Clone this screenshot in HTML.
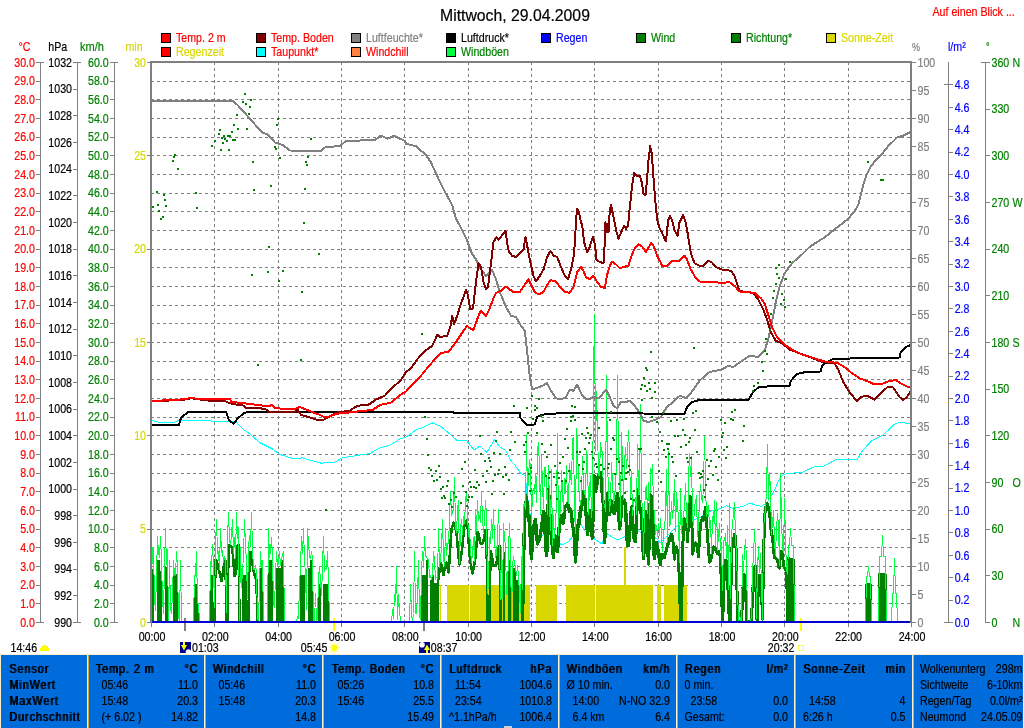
<!DOCTYPE html>
<html><head><meta charset="utf-8"><title>Wetter</title>
<style>html,body{margin:0;padding:0;background:#fff;}svg{display:block;will-change:transform;}</style></head>
<body>
<svg width="1024" height="728" viewBox="0 0 1024 728" font-family="'Liberation Sans', sans-serif" shape-rendering="crispEdges" text-rendering="optimizeLegibility">
<rect x="0" y="0" width="1024" height="728" fill="#fff"/>
<text transform="translate(440.00,20.50) scale(0.987,1)" font-size="16" fill="#000" stroke="#000" stroke-width="0.2">Mittwoch, 29.04.2009</text>
<text transform="translate(932.50,15.50) scale(0.82,1)" font-size="13" fill="#f00" stroke="#f00" stroke-width="0.2">Auf einen Blick ...</text>
<rect x="161.5" y="33.5" width="9" height="9" fill="#ff0000" stroke="#000" stroke-width="1"/>
<text transform="translate(176.00,41.70) scale(0.82,1)" font-size="13" fill="#ff0000" stroke="#ff0000" stroke-width="0.2">Temp. 2 m</text>
<rect x="256.5" y="33.5" width="9" height="9" fill="#800000" stroke="#000" stroke-width="1"/>
<text transform="translate(271.00,41.70) scale(0.82,1)" font-size="13" fill="#ff0000" stroke="#ff0000" stroke-width="0.2">Temp. Boden</text>
<rect x="351.5" y="33.5" width="9" height="9" fill="#808080" stroke="#000" stroke-width="1"/>
<text transform="translate(366.00,41.70) scale(0.82,1)" font-size="13" fill="#808080" stroke="#808080" stroke-width="0.2">Luftfeuchte*</text>
<rect x="446.5" y="33.5" width="9" height="9" fill="#000000" stroke="#000" stroke-width="1"/>
<text transform="translate(461.00,41.70) scale(0.82,1)" font-size="13" fill="#000" stroke="#000" stroke-width="0.2">Luftdruck*</text>
<rect x="541.5" y="33.5" width="9" height="9" fill="#0000ff" stroke="#000" stroke-width="1"/>
<text transform="translate(556.00,41.70) scale(0.82,1)" font-size="13" fill="#0000ff" stroke="#0000ff" stroke-width="0.2">Regen</text>
<rect x="636.5" y="33.5" width="9" height="9" fill="#008000" stroke="#000" stroke-width="1"/>
<text transform="translate(651.00,41.70) scale(0.82,1)" font-size="13" fill="#008000" stroke="#008000" stroke-width="0.2">Wind</text>
<rect x="731.5" y="33.5" width="9" height="9" fill="#008000" stroke="#000" stroke-width="1"/>
<text transform="translate(746.00,41.70) scale(0.82,1)" font-size="13" fill="#008000" stroke="#008000" stroke-width="0.2">Richtung*</text>
<rect x="826.5" y="33.5" width="9" height="9" fill="#d8d800" stroke="#000" stroke-width="1"/>
<text transform="translate(841.00,41.70) scale(0.82,1)" font-size="13" fill="#d8d800" stroke="#d8d800" stroke-width="0.2">Sonne-Zeit</text>
<rect x="161.5" y="47.5" width="9" height="9" fill="#ff0000" stroke="#000" stroke-width="1"/>
<text transform="translate(176.00,55.70) scale(0.82,1)" font-size="13" fill="#d8d800" stroke="#d8d800" stroke-width="0.2">Regenzeit</text>
<rect x="256.5" y="47.5" width="9" height="9" fill="#00ffff" stroke="#000" stroke-width="1"/>
<text transform="translate(271.00,55.70) scale(0.82,1)" font-size="13" fill="#ff0000" stroke="#ff0000" stroke-width="0.2">Taupunkt*</text>
<rect x="351.5" y="47.5" width="9" height="9" fill="#ff8040" stroke="#000" stroke-width="1"/>
<text transform="translate(366.00,55.70) scale(0.82,1)" font-size="13" fill="#ff0000" stroke="#ff0000" stroke-width="0.2">Windchill</text>
<rect x="446.5" y="47.5" width="9" height="9" fill="#00ff40" stroke="#000" stroke-width="1"/>
<text transform="translate(461.00,55.70) scale(0.82,1)" font-size="13" fill="#008000" stroke="#008000" stroke-width="0.2">Windböen</text>
<line x1="151.0" y1="81.5" x2="910.0" y2="81.5" stroke="#808080" stroke-width="1" stroke-dasharray="3,3"/>
<line x1="151.0" y1="99.5" x2="910.0" y2="99.5" stroke="#808080" stroke-width="1" stroke-dasharray="3,3"/>
<line x1="151.0" y1="118.5" x2="910.0" y2="118.5" stroke="#808080" stroke-width="1" stroke-dasharray="3,3"/>
<line x1="151.0" y1="137.5" x2="910.0" y2="137.5" stroke="#808080" stroke-width="1" stroke-dasharray="3,3"/>
<line x1="151.0" y1="155.5" x2="910.0" y2="155.5" stroke="#808080" stroke-width="1" stroke-dasharray="3,3"/>
<line x1="151.0" y1="174.5" x2="910.0" y2="174.5" stroke="#808080" stroke-width="1" stroke-dasharray="3,3"/>
<line x1="151.0" y1="193.5" x2="910.0" y2="193.5" stroke="#808080" stroke-width="1" stroke-dasharray="3,3"/>
<line x1="151.0" y1="211.5" x2="910.0" y2="211.5" stroke="#808080" stroke-width="1" stroke-dasharray="3,3"/>
<line x1="151.0" y1="230.5" x2="910.0" y2="230.5" stroke="#808080" stroke-width="1" stroke-dasharray="3,3"/>
<line x1="151.0" y1="249.5" x2="910.0" y2="249.5" stroke="#808080" stroke-width="1" stroke-dasharray="3,3"/>
<line x1="151.0" y1="267.5" x2="910.0" y2="267.5" stroke="#808080" stroke-width="1" stroke-dasharray="3,3"/>
<line x1="151.0" y1="286.5" x2="910.0" y2="286.5" stroke="#808080" stroke-width="1" stroke-dasharray="3,3"/>
<line x1="151.0" y1="305.5" x2="910.0" y2="305.5" stroke="#808080" stroke-width="1" stroke-dasharray="3,3"/>
<line x1="151.0" y1="323.5" x2="910.0" y2="323.5" stroke="#808080" stroke-width="1" stroke-dasharray="3,3"/>
<line x1="151.0" y1="342.5" x2="910.0" y2="342.5" stroke="#808080" stroke-width="1" stroke-dasharray="3,3"/>
<line x1="151.0" y1="361.5" x2="910.0" y2="361.5" stroke="#808080" stroke-width="1" stroke-dasharray="3,3"/>
<line x1="151.0" y1="379.5" x2="910.0" y2="379.5" stroke="#808080" stroke-width="1" stroke-dasharray="3,3"/>
<line x1="151.0" y1="398.5" x2="910.0" y2="398.5" stroke="#808080" stroke-width="1" stroke-dasharray="3,3"/>
<line x1="151.0" y1="417.5" x2="910.0" y2="417.5" stroke="#808080" stroke-width="1" stroke-dasharray="3,3"/>
<line x1="151.0" y1="435.5" x2="910.0" y2="435.5" stroke="#808080" stroke-width="1" stroke-dasharray="3,3"/>
<line x1="151.0" y1="454.5" x2="910.0" y2="454.5" stroke="#808080" stroke-width="1" stroke-dasharray="3,3"/>
<line x1="151.0" y1="473.5" x2="910.0" y2="473.5" stroke="#808080" stroke-width="1" stroke-dasharray="3,3"/>
<line x1="151.0" y1="491.5" x2="910.0" y2="491.5" stroke="#808080" stroke-width="1" stroke-dasharray="3,3"/>
<line x1="151.0" y1="510.5" x2="910.0" y2="510.5" stroke="#808080" stroke-width="1" stroke-dasharray="3,3"/>
<line x1="151.0" y1="529.5" x2="910.0" y2="529.5" stroke="#808080" stroke-width="1" stroke-dasharray="3,3"/>
<line x1="151.0" y1="547.5" x2="910.0" y2="547.5" stroke="#808080" stroke-width="1" stroke-dasharray="3,3"/>
<line x1="151.0" y1="566.5" x2="910.0" y2="566.5" stroke="#808080" stroke-width="1" stroke-dasharray="3,3"/>
<line x1="151.0" y1="585.5" x2="910.0" y2="585.5" stroke="#808080" stroke-width="1" stroke-dasharray="3,3"/>
<line x1="151.0" y1="603.5" x2="910.0" y2="603.5" stroke="#808080" stroke-width="1" stroke-dasharray="3,3"/>
<line x1="214.5" y1="62.0" x2="214.5" y2="622.0" stroke="#808080" stroke-width="1" stroke-dasharray="3,3"/>
<line x1="278.5" y1="62.0" x2="278.5" y2="622.0" stroke="#808080" stroke-width="1" stroke-dasharray="3,3"/>
<line x1="341.5" y1="62.0" x2="341.5" y2="622.0" stroke="#808080" stroke-width="1" stroke-dasharray="3,3"/>
<line x1="404.5" y1="62.0" x2="404.5" y2="622.0" stroke="#808080" stroke-width="1" stroke-dasharray="3,3"/>
<line x1="468.5" y1="62.0" x2="468.5" y2="622.0" stroke="#808080" stroke-width="1" stroke-dasharray="3,3"/>
<line x1="531.5" y1="62.0" x2="531.5" y2="622.0" stroke="#808080" stroke-width="1" stroke-dasharray="3,3"/>
<line x1="594.5" y1="62.0" x2="594.5" y2="622.0" stroke="#808080" stroke-width="1" stroke-dasharray="3,3"/>
<line x1="658.5" y1="62.0" x2="658.5" y2="622.0" stroke="#808080" stroke-width="1" stroke-dasharray="3,3"/>
<line x1="721.5" y1="62.0" x2="721.5" y2="622.0" stroke="#808080" stroke-width="1" stroke-dasharray="3,3"/>
<line x1="784.5" y1="62.0" x2="784.5" y2="622.0" stroke="#808080" stroke-width="1" stroke-dasharray="3,3"/>
<line x1="848.5" y1="62.0" x2="848.5" y2="622.0" stroke="#808080" stroke-width="1" stroke-dasharray="3,3"/>
<rect x="439.5" y="585" width="1.6999999999999886" height="37" fill="#d8d800"/>
<rect x="447" y="585" width="83.39999999999998" height="37" fill="#d8d800"/>
<rect x="536" y="585" width="21" height="37" fill="#d8d800"/>
<rect x="565.7" y="585" width="87.09999999999991" height="37" fill="#d8d800"/>
<rect x="657.2" y="585" width="3.7999999999999545" height="37" fill="#d8d800"/>
<rect x="663.5" y="585" width="23.5" height="37" fill="#d8d800"/>
<line x1="469.5" y1="585" x2="469.5" y2="622" stroke="#fff" stroke-width="1" />
<line x1="595.5" y1="585" x2="595.5" y2="622" stroke="#fff" stroke-width="1" />
<rect x="624" y="547" width="2" height="38" fill="#d8d800"/>
<rect x="184" y="618" width="2" height="13" fill="#808080"/>
<rect x="333" y="618" width="2" height="13" fill="#ffff00"/>
<rect x="423" y="618" width="2" height="13" fill="#808080"/>
<rect x="800" y="618" width="2" height="13" fill="#ffff00"/>
<polyline points="150.0,420.0 157.5,422.0 175.0,422.0 180.0,420.0 207.5,420.0 215.0,422.0 230.0,421.2 236.2,422.5 242.5,428.8 250.0,434.0 260.0,442.8 272.5,449.0 280.0,454.5 293.8,459.0 302.5,457.8 310.0,460.2 321.2,463.2 335.0,462.0 342.5,457.8 355.0,455.8 370.0,453.5 380.0,447.8 390.0,445.2 400.0,439.0 406.0,437.0 410.5,434.0 416.6,429.5 425.6,426.4 432.4,423.0 440.8,426.4 449.8,434.0 457.4,440.8 466.5,440.5 474.0,449.9 480.0,446.1 486.9,452.4 494.4,439.6 499.7,446.8 505.7,450.6 510.3,459.7 514.8,465.0 520.9,473.7 525.4,475.6 527.0,494.0 529.0,505.0 532.0,530.0 536.0,535.0 540.0,538.0 545.0,533.0 550.0,535.0 556.0,541.0 562.0,545.0 568.0,542.0 574.0,535.0 580.0,522.0 584.0,530.0 590.0,536.0 596.0,540.0 602.0,544.0 606.0,533.0 612.0,537.0 618.0,540.0 624.0,537.0 630.0,534.0 636.0,528.0 641.0,533.0 647.0,540.0 653.0,536.0 658.0,540.0 660.0,543.2 668.3,534.9 676.6,526.5 683.6,518.2 690.5,521.0 698.8,518.2 709.9,511.3 721.0,508.5 726.5,505.8 733.4,508.5 743.1,506.3 750.0,503.0 755.6,505.2 761.2,506.3 766.7,503.0 773.6,491.9 780.6,476.7 786.1,473.3 790.0,473.3 801.9,472.5 815.7,466.1 824.0,466.1 835.1,460.0 847.6,459.2 857.3,459.2 862.8,450.3 871.1,441.2 883.6,434.5 894.7,424.0 900.0,422.5 905.0,423.0 910.8,424.0" fill="none" stroke="#00ffff" stroke-width="1" stroke-linejoin="round" />
<polygon points="151.0,622.0 151.0,567.9 152.0,567.9 152.0,568.8 153.0,568.8 153.0,568.8 154.0,568.8 154.0,622.0" fill="#008000"/>
<polygon points="157.0,622.0 157.0,560.4 158.0,560.4 158.0,560.4 159.0,560.4 159.0,560.4 160.0,560.4 160.0,570.7 161.0,570.7 161.0,570.7 162.0,570.7 162.0,622.0" fill="#008000"/>
<polygon points="165.0,622.0 165.0,566.9 166.0,566.9 166.0,566.9 167.0,566.9 167.0,566.9 168.0,566.9 168.0,622.0" fill="#008000"/>
<polygon points="173.0,622.0 173.0,575.3 174.0,575.3 174.0,575.3 175.0,575.3 175.0,575.3 176.0,575.3 176.0,574.4 177.0,574.4 177.0,574.4 178.0,574.4 178.0,622.0" fill="#008000"/>
<polygon points="194.0,622.0 194.0,583.7 195.0,583.7 195.0,583.7 196.0,583.7 196.0,583.7 197.0,583.7 197.0,603.3 198.0,603.3 198.0,603.3 199.0,603.3 199.0,622.0" fill="#008000"/>
<polygon points="210.0,622.0 210.0,575.3 211.0,575.3 211.0,575.3 212.0,575.3 212.0,575.3 213.0,575.3 213.0,622.0" fill="#008000"/>
<polygon points="242.0,622.0 242.0,575.3 243.0,575.3 243.0,575.3 244.0,575.3 244.0,575.3 245.0,575.3 245.0,575.3 246.0,575.3 246.0,575.3 247.0,575.3 247.0,622.0" fill="#008000"/>
<polygon points="260.0,622.0 260.0,567.9 261.0,567.9 261.0,567.9 262.0,567.9 262.0,567.9 263.0,567.9 263.0,622.0" fill="#008000"/>
<polygon points="268.0,622.0 268.0,560.4 269.0,560.4 269.0,560.4 270.0,560.4 270.0,560.4 271.0,560.4 271.0,560.4 272.0,560.4 272.0,560.4 273.0,560.4 273.0,622.0" fill="#008000"/>
<polygon points="276.0,622.0 276.0,567.9 277.0,567.9 277.0,567.9 278.0,567.9 278.0,567.9 279.0,567.9 279.0,567.9 280.0,567.9 280.0,567.9 281.0,567.9 281.0,560.4 282.0,560.4 282.0,560.4 283.0,560.4 283.0,560.4 284.0,560.4 284.0,622.0" fill="#008000"/>
<polygon points="300.0,622.0 300.0,575.3 301.0,575.3 301.0,575.3 302.0,575.3 302.0,575.3 303.0,575.3 303.0,575.3 304.0,575.3 304.0,575.3 305.0,575.3 305.0,622.0" fill="#008000"/>
<polygon points="308.0,622.0 308.0,567.9 309.0,567.9 309.0,567.9 310.0,567.9 310.0,560.4 311.0,560.4 311.0,560.4 312.0,560.4 312.0,560.4 313.0,560.4 313.0,622.0" fill="#008000"/>
<polygon points="318.0,622.0 318.0,583.7 319.0,583.7 319.0,583.7 320.0,583.7 320.0,583.7 321.0,583.7 321.0,622.0" fill="#008000"/>
<polygon points="323.0,622.0 323.0,583.7 324.0,583.7 324.0,583.7 325.0,583.7 325.0,583.7 326.0,583.7 326.0,583.7 327.0,583.7 327.0,583.7 328.0,583.7 328.0,583.7 329.0,583.7 329.0,622.0" fill="#008000"/>
<polygon points="421.0,622.0 421.0,575.3 422.0,575.3 422.0,575.3 423.0,575.3 423.0,575.3 424.0,575.3 424.0,575.3 425.0,575.3 425.0,575.3 426.0,575.3 426.0,560.4 427.0,560.4 427.0,560.4 428.0,560.4 428.0,622.0" fill="#008000"/>
<polygon points="430.0,622.0 430.0,580.0 431.0,580.0 431.0,580.0 432.0,580.0 432.0,575.3 433.0,575.3 433.0,575.3 434.0,575.3 434.0,582.8 435.0,582.8 435.0,582.8 436.0,582.8 436.0,582.8 437.0,582.8 437.0,580.0 438.0,580.0 438.0,580.0 439.0,580.0 439.0,622.0" fill="#008000"/>
<polygon points="503.0,622.0 503.0,552.0 504.0,552.0 504.0,552.0 505.0,552.0 505.0,622.0" fill="#008000"/>
<polygon points="508.0,622.0 508.0,560.4 509.0,560.4 509.0,560.4 510.0,560.4 510.0,560.4 511.0,560.4 511.0,622.0" fill="#008000"/>
<polygon points="513.0,622.0 513.0,567.9 514.0,567.9 514.0,567.9 515.0,567.9 515.0,567.9 516.0,567.9 516.0,580.0 517.0,580.0 517.0,580.0 518.0,580.0 518.0,580.0 519.0,580.0 519.0,622.0" fill="#008000"/>
<polygon points="786.0,622.0 786.0,571.6 787.0,571.6 787.0,606.5 788.0,606.5 788.0,558.5 789.0,558.5 789.0,558.5 790.0,558.5 790.0,558.5 791.0,558.5 791.0,622.0" fill="#008000"/>
<polygon points="792.0,622.0 792.0,558.5 793.0,558.5 793.0,558.5 794.0,558.5 794.0,622.0" fill="#008000"/>
<polygon points="866.0,622.0 866.0,583.7 867.0,583.7 867.0,583.7 868.0,583.7 868.0,583.7 869.0,583.7 869.0,583.7 870.0,583.7 870.0,583.7 871.0,583.7 871.0,622.0" fill="#008000"/>
<polygon points="879.0,622.0 879.0,573.5 880.0,573.5 880.0,573.5 881.0,573.5 881.0,573.5 882.0,573.5 882.0,622.0" fill="#008000"/>
<polygon points="883.0,622.0 883.0,573.5 884.0,573.5 884.0,573.5 885.0,573.5 885.0,573.5 886.0,573.5 886.0,622.0" fill="#008000"/>
<polyline points="214.5,622.0 215.5,560.4 216.5,560.5 217.5,564.4 218.5,568.3 219.5,572.3 220.5,576.6 221.5,580.8 222.5,576.0 223.5,568.2 224.5,561.3 225.5,561.3 226.5,622.0" fill="none" stroke="#008000" stroke-width="2.6" stroke-linejoin="round" stroke-linejoin="miter"/>
<polyline points="227.5,622.0 228.5,545.5 229.5,545.5 230.5,546.1 231.5,546.8 232.5,549.9 233.5,563.0 234.5,576.1 235.5,574.0 236.5,559.9 237.5,545.7 238.5,544.5 239.5,622.0" fill="none" stroke="#008000" stroke-width="2.6" stroke-linejoin="round" stroke-linejoin="miter"/>
<polyline points="248.5,622.0 249.5,552.0 250.5,552.0 251.5,557.1 252.5,564.2 253.5,571.0 254.5,574.5 255.5,578.0 256.5,580.0 257.5,622.0" fill="none" stroke="#008000" stroke-width="2.6" stroke-linejoin="round" stroke-linejoin="miter"/>
<polyline points="438.5,580.0 439.5,569.9 440.5,562.5 441.5,564.5 442.5,570.1 443.5,574.9 444.5,569.2 445.5,563.5 446.5,562.6 447.5,567.6 448.5,572.5 449.5,560.1 450.5,543.5 451.5,529.1 452.5,525.9 453.5,522.7 454.5,523.6 455.5,528.2 456.5,532.8 457.5,544.3 458.5,556.7 459.5,564.6 460.5,558.9 461.5,553.3 462.5,544.8 463.5,534.5 464.5,524.3 465.5,522.3 466.5,520.5 467.5,524.3 468.5,539.1 469.5,554.0 470.5,562.5 471.5,568.1 472.5,573.2 473.5,568.6 474.5,564.0 475.5,556.3 476.5,544.3 477.5,532.3 478.5,533.7 479.5,539.0 480.5,543.6 481.5,543.6 482.5,543.6 483.5,540.9 484.5,535.6 485.5,530.3 486.5,529.6 487.5,622.0" fill="none" stroke="#008000" stroke-width="2.6" stroke-linejoin="round" stroke-linejoin="miter"/>
<polyline points="489.5,622.0 490.5,551.1 491.5,554.4 492.5,560.0 493.5,565.7 494.5,566.0 495.5,566.0 496.5,563.6 497.5,555.8 498.5,548.1 499.5,545.5 500.5,622.0" fill="none" stroke="#008000" stroke-width="2.6" stroke-linejoin="round" stroke-linejoin="miter"/>
<polyline points="522.5,622.0 523.5,563.9 524.5,520.3 525.5,512.5 526.5,496.0 527.5,511.4 528.5,520.9 529.5,516.6 530.5,545.2 531.5,558.4 532.5,536.8 533.5,530.1 534.5,521.3 535.5,519.7 536.5,533.8 537.5,543.9 538.5,541.2 539.5,539.6 540.5,533.2 541.5,527.5 542.5,519.5 543.5,511.3 544.5,514.4 545.5,542.1 546.5,555.2 547.5,543.4 548.5,489.6 549.5,505.9 550.5,533.0 551.5,535.6 552.5,548.4 553.5,557.3 554.5,541.5 555.5,536.1 556.5,541.3 557.5,551.3 558.5,538.1 559.5,522.0 560.5,515.7 561.5,522.6 562.5,518.8 563.5,523.1 564.5,509.1 565.5,506.0 566.5,506.6 567.5,503.8 568.5,506.2 569.5,511.5 570.5,509.1 571.5,514.5 572.5,526.1 573.5,528.8 574.5,539.5 575.5,561.9 576.5,544.3 577.5,532.0 578.5,520.5 579.5,523.5 580.5,507.0 581.5,509.3 582.5,499.5 583.5,491.4 584.5,494.0 585.5,508.2 586.5,519.1 587.5,534.3 588.5,528.1 589.5,510.4 590.5,514.3 591.5,532.6 592.5,538.2 593.5,486.7 594.5,475.9 595.5,491.2 596.5,486.9 597.5,480.6 598.5,475.1 599.5,475.7 600.5,472.7 601.5,481.1 602.5,497.6 603.5,505.3 604.5,542.4 605.5,527.6 606.5,510.3 607.5,493.7 608.5,512.1 609.5,514.4 610.5,507.2 611.5,500.9 612.5,510.5 613.5,513.0 614.5,513.2 615.5,509.8 616.5,498.1 617.5,493.5 618.5,504.5 619.5,528.9 620.5,523.3 621.5,507.6 622.5,497.0 623.5,502.2 624.5,500.1 625.5,506.2 626.5,528.0 627.5,545.5 628.5,545.5 629.5,532.9 630.5,522.3 631.5,507.3 632.5,518.2 633.5,536.2 634.5,540.5 635.5,541.2 636.5,517.1 637.5,489.6 638.5,496.8 639.5,506.5 640.5,512.3 641.5,508.7 642.5,538.0 643.5,558.2 644.5,544.7 645.5,522.8 646.5,511.5 647.5,537.9 648.5,564.1 649.5,521.7 650.5,495.0 651.5,496.6 652.5,510.2 653.5,550.8 654.5,558.5 655.5,547.8 656.5,542.6 657.5,550.6 658.5,550.1 659.5,560.9 660.5,564.7" fill="none" stroke="#008000" stroke-width="3.4" stroke-linejoin="round" stroke-linejoin="miter"/>
<polyline points="659.5,560.9 660.5,564.7 661.5,556.1 662.5,554.4 663.5,555.9 664.5,557.6 665.5,552.4 666.5,550.4 667.5,544.4 668.5,544.3 669.5,539.5 670.5,535.8 671.5,534.3 672.5,535.9 673.5,548.0 674.5,559.2 675.5,549.2 676.5,547.0 677.5,551.2 678.5,556.9 679.5,585.9 680.5,621.7 681.5,621.7 682.5,555.1 683.5,528.3 684.5,518.8 685.5,519.1 686.5,520.6 687.5,541.5 688.5,522.5 689.5,496.2 690.5,497.3 691.5,500.3 692.5,554.1 693.5,549.8 694.5,543.9 695.5,543.0 696.5,544.5 697.5,548.1 698.5,556.5 699.5,538.6 700.5,523.6 701.5,520.6 702.5,517.6 703.5,520.4 704.5,515.2 705.5,507.5 706.5,519.6 707.5,537.1 708.5,549.0 709.5,562.1 710.5,561.1 711.5,556.0 712.5,552.2 713.5,547.0 714.5,547.2 715.5,549.0 716.5,551.5 717.5,553.6 718.5,551.4 719.5,554.3 720.5,556.1 721.5,591.1 722.5,621.7 723.5,602.9 724.5,561.8 725.5,560.4 726.5,561.5 727.5,571.6 728.5,606.8 729.5,621.7 730.5,621.7 731.5,551.6 732.5,543.6 733.5,540.9 734.5,534.4 735.5,536.8 736.5,557.8 737.5,620.1 738.5,621.7 739.5,621.7 740.5,621.7 741.5,621.7 742.5,599.8 743.5,574.1 744.5,575.2 745.5,582.8 746.5,621.7 747.5,621.7 748.5,621.7 749.5,621.7 750.5,621.7 751.5,619.2 752.5,598.2 753.5,576.2 754.5,567.1 755.5,566.3 756.5,618.1 757.5,621.7 758.5,575.4 759.5,575.8 760.5,575.6 761.5,590.8 762.5,619.2 763.5,560.7 764.5,517.6 765.5,508.7 766.5,503.6 767.5,504.6 768.5,508.3 769.5,513.7 770.5,522.6 771.5,534.4 772.5,536.4 773.5,549.4 774.5,557.6 775.5,557.9 776.5,558.7 777.5,560.2 778.5,566.4 779.5,568.0 780.5,551.5 781.5,552.9 782.5,552.6 783.5,566.2 784.5,567.9 785.5,570.1 786.5,571.6 787.5,606.5 788.5,558.5 789.5,558.5" fill="none" stroke="#008000" stroke-width="3" stroke-linejoin="round" stroke-linejoin="miter"/>
<polyline points="788.5,558.5 789.5,558.5 790.5,558.5 791.5,622.0 792.5,558.5 793.5,558.5 794.5,622.0 795.5,622.0 796.5,622.0 797.5,622.0 798.5,622.0 799.5,622.0 800.5,622.0 801.5,622.0 802.5,622.0 803.5,622.0 804.5,622.0 805.5,622.0 806.5,622.0 807.5,622.0 808.5,622.0 809.5,622.0 810.5,622.0 811.5,622.0 812.5,622.0 813.5,622.0 814.5,622.0 815.5,622.0 816.5,622.0 817.5,622.0 818.5,622.0 819.5,622.0 820.5,622.0 821.5,622.0 822.5,622.0 823.5,622.0 824.5,622.0 825.5,622.0 826.5,622.0 827.5,622.0 828.5,622.0 829.5,622.0 830.5,622.0 831.5,622.0 832.5,622.0 833.5,622.0 834.5,622.0 835.5,622.0 836.5,622.0 837.5,622.0 838.5,622.0 839.5,622.0 840.5,622.0 841.5,622.0 842.5,622.0 843.5,622.0 844.5,622.0 845.5,622.0 846.5,622.0 847.5,622.0 848.5,622.0 849.5,622.0 850.5,622.0 851.5,622.0 852.5,622.0 853.5,622.0 854.5,622.0 855.5,622.0 856.5,622.0 857.5,622.0 858.5,622.0 859.5,622.0 860.5,622.0 861.5,622.0 862.5,622.0 863.5,622.0 864.5,622.0 865.5,622.0 866.5,583.7 867.5,583.7 868.5,583.7 869.5,583.7 870.5,583.7 871.5,622.0 872.5,622.0 873.5,622.0 874.5,622.0 875.5,622.0 876.5,622.0 877.5,622.0 878.5,622.0 879.5,573.5 880.5,573.5 881.5,573.5 882.5,622.0 883.5,573.5 884.5,573.5 885.5,573.5 886.5,622.0 887.5,622.0 888.5,622.0 889.5,622.0 890.5,622.0 891.5,622.0 892.5,622.0 893.5,622.0 894.5,622.0 895.5,622.0 896.5,622.0 897.5,622.0 898.5,622.0 899.5,622.0 900.5,622.0 901.5,622.0 902.5,622.0 903.5,622.0 904.5,622.0 905.5,622.0 906.5,622.0 907.5,622.0 908.5,622.0 909.5,622.0 910.5,622.0 911.5,622.0" fill="none" stroke="#008000" stroke-width="2" stroke-linejoin="round" stroke-linejoin="miter"/>
<polyline points="151.5,528.7 152.5,563.5 153.5,547.3 154.5,600.4 155.5,610.2 156.5,575.3 157.5,536.1 158.5,552.6 159.5,557.9 160.5,536.1 161.5,560.9 162.5,599.8 163.5,613.5 164.5,566.0 165.5,528.7 166.5,565.0 167.5,549.9 168.5,620.7 169.5,560.4 170.5,608.5 171.5,613.4 172.5,594.0 173.5,560.4 174.5,574.0 175.5,575.2 176.5,551.1 177.5,567.6 178.5,616.1 179.5,621.1 180.5,560.4 181.5,622.0 182.5,622.0 183.5,622.0 184.5,622.0 185.5,622.0 186.5,622.0 187.5,622.0 188.5,622.0 189.5,622.0 190.5,622.0 191.5,622.0 192.5,622.0 193.5,622.0 194.5,575.4 195.5,575.8 196.5,551.1 197.5,603.3 198.5,603.3 199.5,622.0 200.5,622.0 201.5,622.0 202.5,622.0 203.5,622.0 204.5,622.0 205.5,622.0 206.5,622.0 207.5,622.0 208.5,622.0 209.5,622.0 210.5,561.1 211.5,566.5 212.5,544.5 213.5,566.0 214.5,608.0 215.5,545.4 216.5,519.3 217.5,553.1 218.5,552.0 219.5,569.2 220.5,528.7 221.5,552.2 222.5,550.1 223.5,562.9 224.5,556.7 225.5,559.5 226.5,612.4 227.5,538.0 228.5,512.8 229.5,540.3 230.5,544.8 231.5,535.2 232.5,519.3 233.5,553.4 234.5,538.0 235.5,557.2 236.5,512.8 237.5,538.7 238.5,527.8 239.5,622.0 240.5,547.3 241.5,588.0 242.5,570.5 243.5,556.7 244.5,519.3 245.5,545.1 246.5,563.1 247.5,598.5 248.5,547.3 249.5,535.2 250.5,546.2 251.5,512.8 252.5,547.3 253.5,569.8 254.5,569.5 255.5,566.0 256.5,572.6 257.5,619.8 258.5,620.1 259.5,584.7 260.5,551.1 261.5,567.3 262.5,560.5 263.5,622.0 264.5,622.0 265.5,622.0 266.5,622.0 267.5,622.0 268.5,528.7 269.5,557.3 270.5,550.6 271.5,538.0 272.5,554.9 273.5,604.9 274.5,607.0 275.5,575.3 276.5,551.1 277.5,566.8 278.5,564.0 279.5,551.1 280.5,565.9 281.5,559.0 282.5,555.4 283.5,551.1 284.5,622.0 285.5,622.0 286.5,622.0 287.5,622.0 288.5,622.0 289.5,622.0 290.5,622.0 291.5,622.0 292.5,622.0 293.5,622.0 294.5,622.0 295.5,622.0 296.5,622.0 297.5,616.3 298.5,618.1 299.5,584.7 300.5,566.8 301.5,536.1 302.5,553.4 303.5,528.7 304.5,558.9 305.5,575.8 306.5,609.9 307.5,528.7 308.5,542.7 309.5,557.2 310.5,558.7 311.5,551.1 312.5,558.9 313.5,622.0 314.5,622.0 315.5,594.0 316.5,620.7 317.5,618.6 318.5,578.2 319.5,566.9 320.5,580.3 321.5,595.6 322.5,566.9 323.5,536.1 324.5,571.1 325.5,568.7 326.5,568.2 327.5,551.1 328.5,580.4 329.5,622.0 330.5,622.0 331.5,622.0 332.5,622.0 333.5,622.0 334.5,622.0 335.5,622.0 336.5,622.0 337.5,622.0 338.5,622.0 339.5,622.0 340.5,622.0 341.5,622.0 342.5,622.0 343.5,622.0 344.5,622.0 345.5,622.0 346.5,622.0 347.5,622.0 348.5,622.0 349.5,622.0 350.5,622.0 351.5,622.0 352.5,622.0 353.5,622.0 354.5,622.0 355.5,622.0 356.5,622.0 357.5,622.0 358.5,622.0 359.5,622.0 360.5,622.0 361.5,622.0 362.5,622.0 363.5,622.0 364.5,622.0 365.5,622.0 366.5,622.0 367.5,622.0 368.5,622.0 369.5,622.0 370.5,622.0 371.5,622.0 372.5,622.0 373.5,622.0 374.5,622.0 375.5,622.0 376.5,622.0 377.5,622.0 378.5,622.0 379.5,622.0 380.5,622.0 381.5,622.0 382.5,622.0 383.5,622.0 384.5,622.0 385.5,622.0 386.5,622.0 387.5,622.0 388.5,622.0 389.5,622.0 390.5,622.0 391.5,622.0 392.5,609.7 393.5,618.6 394.5,594.9 395.5,601.6 396.5,566.9 397.5,619.3 398.5,594.9 399.5,610.1 400.5,622.0 401.5,622.0 402.5,622.0 403.5,622.0 404.5,622.0 405.5,622.0 406.5,622.0 407.5,622.0 408.5,622.0 409.5,622.0 410.5,584.7 411.5,614.1 412.5,621.3 413.5,613.5 414.5,551.1 415.5,612.9 416.5,613.6 417.5,594.0 418.5,560.4 419.5,616.6 420.5,619.9 421.5,572.3 422.5,551.1 423.5,567.9 424.5,536.1 425.5,557.0 426.5,556.7 427.5,559.1 428.5,559.8 429.5,577.6 430.5,575.3 431.5,579.5 432.5,575.1 433.5,551.1 434.5,560.4 435.5,579.5 436.5,577.3 437.5,578.3 438.5,528.7 439.5,567.7 440.5,559.4 441.5,547.3 442.5,519.3 443.5,557.4 444.5,565.6 445.5,528.7 446.5,555.8 447.5,543.9 448.5,543.8 449.5,519.3 450.5,491.3 451.5,515.4 452.5,512.8 453.5,508.1 454.5,477.3 455.5,526.8 456.5,532.4 457.5,510.0 458.5,500.7 459.5,564.0 460.5,529.8 461.5,519.3 462.5,535.0 463.5,516.6 464.5,524.0 465.5,500.7 466.5,491.3 467.5,512.8 468.5,536.4 469.5,528.7 470.5,548.9 471.5,562.8 472.5,553.9 473.5,538.0 474.5,561.8 475.5,510.0 476.5,531.2 477.5,500.7 478.5,520.3 479.5,515.4 480.5,522.4 481.5,491.3 482.5,519.3 483.5,532.6 484.5,520.4 485.5,500.7 486.5,515.0 487.5,593.2 488.5,585.4 489.5,538.0 490.5,543.8 491.5,519.3 492.5,538.3 493.5,510.0 494.5,539.4 495.5,557.2 496.5,554.8 497.5,538.0 498.5,510.0 499.5,538.0 500.5,599.3 501.5,547.3 502.5,598.1 503.5,524.0 504.5,536.7 505.5,547.3 506.5,594.8 507.5,594.6 508.5,548.8 509.5,524.0 510.5,551.6 511.5,619.7 512.5,566.0 513.5,556.7 514.5,563.2 515.5,567.7 516.5,575.4 517.5,566.0 518.5,576.3 519.5,594.0 520.5,612.2 521.5,556.7 522.5,589.7 523.5,504.4 524.5,503.5 525.5,509.7 526.5,434.6 527.5,496.0 528.5,477.4 529.5,459.1 530.5,465.9 531.5,522.5 532.5,491.9 533.5,488.3 534.5,493.6 535.5,473.7 536.5,502.8 537.5,449.1 538.5,442.5 539.5,469.2 540.5,515.0 541.5,455.4 542.5,485.7 543.5,508.5 544.5,467.6 545.5,467.9 546.5,483.7 547.5,514.6 548.5,465.6 549.5,503.1 550.5,530.2 551.5,469.4 552.5,545.6 553.5,515.2 554.5,538.7 555.5,519.2 556.5,508.0 557.5,433.9 558.5,535.3 559.5,500.7 560.5,512.9 561.5,470.4 562.5,491.2 563.5,511.4 564.5,478.8 565.5,493.5 566.5,466.0 567.5,501.0 568.5,503.4 569.5,463.6 570.5,475.9 571.5,484.2 572.5,438.3 573.5,437.8 574.5,508.8 575.5,533.8 576.5,428.4 577.5,441.8 578.5,485.4 579.5,498.7 580.5,504.2 581.5,495.3 582.5,456.6 583.5,490.1 584.5,491.2 585.5,498.0 586.5,450.8 587.5,456.2 588.5,514.2 589.5,489.6 590.5,475.5 591.5,517.3 592.5,505.1 593.5,380.0 594.5,314.5 595.5,451.7 596.5,392.0 597.5,426.1 598.5,475.1 599.5,475.7 600.5,442.7 601.5,451.0 602.5,451.2 603.5,502.5 604.5,504.8 605.5,511.2 606.5,375.5 607.5,463.1 608.5,489.2 609.5,511.6 610.5,500.4 611.5,463.0 612.5,481.9 613.5,503.2 614.5,497.1 615.5,485.4 616.5,464.7 617.5,375.5 618.5,463.0 619.5,457.8 620.5,520.5 621.5,433.0 622.5,457.2 623.5,499.4 624.5,462.1 625.5,448.0 626.5,468.1 627.5,454.7 628.5,430.4 629.5,453.0 630.5,498.4 631.5,471.8 632.5,515.4 633.5,499.3 634.5,501.3 635.5,497.5 636.5,514.3 637.5,444.2 638.5,494.0 639.5,494.3 640.5,405.0 641.5,500.0 642.5,505.8 643.5,555.4 644.5,513.0 645.5,488.9 646.5,485.2 647.5,513.8 648.5,482.9 649.5,518.9 650.5,468.7 651.5,473.7 652.5,464.6 653.5,506.5 654.5,512.6 655.5,534.2 656.5,525.7 657.5,536.7 658.5,523.7 659.5,535.9 660.5,518.2 661.5,537.9 662.5,551.6 663.5,533.2 664.5,527.1 665.5,514.9 666.5,469.2 667.5,541.6 668.5,452.0 669.5,526.4 670.5,523.4 671.5,501.4 672.5,518.7 673.5,507.4 674.5,479.6 675.5,531.9 676.5,492.6 677.5,504.9 678.5,519.7 679.5,562.8 680.5,489.0 681.5,533.4 682.5,520.2 683.5,516.1 684.5,506.4 685.5,483.9 686.5,518.0 687.5,527.8 688.5,478.9 689.5,453.6 690.5,476.6 691.5,456.1 692.5,517.7 693.5,525.7 694.5,506.4 695.5,502.4 696.5,495.5 697.5,536.8 698.5,526.0 699.5,499.2 700.5,484.8 701.5,496.7 702.5,502.5 703.5,486.8 704.5,436.5 705.5,483.4 706.5,516.8 707.5,507.7 708.5,505.5 709.5,527.9 710.5,520.7 711.5,553.2 712.5,516.4 713.5,521.9 714.5,500.9 715.5,545.2 716.5,502.4 717.5,550.2 718.5,535.3 719.5,523.2 720.5,550.6 721.5,543.5 722.5,590.2 723.5,540.9 724.5,540.8 725.5,533.2 726.5,558.7 727.5,526.0 728.5,589.2 729.5,503.6 730.5,598.0 731.5,532.1 732.5,525.4 733.5,512.0 734.5,502.4 735.5,536.8 736.5,555.0 737.5,587.0 738.5,621.7 739.5,612.3 740.5,621.7 741.5,621.7 742.5,554.8 743.5,571.3 744.5,550.3 745.5,540.0 746.5,558.5 747.5,621.7 748.5,621.7 749.5,621.7 750.5,621.7 751.5,616.4 752.5,569.4 753.5,557.1 754.5,529.2 755.5,553.8 756.5,618.1 757.5,568.4 758.5,546.2 759.5,573.0 760.5,553.9 761.5,584.8 762.5,619.2 763.5,529.2 764.5,517.6 765.5,508.7 766.5,490.3 767.5,445.0 768.5,499.5 769.5,472.7 770.5,488.6 771.5,534.4 772.5,523.1 773.5,510.6 774.5,542.4 775.5,555.1 776.5,528.6 777.5,514.0 778.5,525.9 779.5,565.2 780.5,474.0 781.5,517.5 782.5,549.8 783.5,552.3 784.5,498.5 785.5,539.8 786.5,568.8 787.5,574.7 788.5,545.1 789.5,545.1 790.5,528.7 791.5,545.1 792.5,545.1 793.5,545.1 794.5,622.0 795.5,622.0 796.5,622.0 797.5,622.0 798.5,622.0 799.5,622.0 800.5,622.0 801.5,622.0 802.5,622.0 803.5,622.0 804.5,622.0 805.5,622.0 806.5,622.0 807.5,622.0 808.5,622.0 809.5,622.0 810.5,622.0 811.5,622.0 812.5,622.0 813.5,622.0 814.5,622.0 815.5,622.0 816.5,622.0 817.5,622.0 818.5,622.0 819.5,622.0 820.5,622.0 821.5,622.0 822.5,622.0 823.5,622.0 824.5,622.0 825.5,622.0 826.5,622.0 827.5,622.0 828.5,622.0 829.5,622.0 830.5,622.0 831.5,622.0 832.5,622.0 833.5,622.0 834.5,622.0 835.5,622.0 836.5,622.0 837.5,622.0 838.5,622.0 839.5,622.0 840.5,622.0 841.5,622.0 842.5,622.0 843.5,622.0 844.5,622.0 845.5,622.0 846.5,622.0 847.5,622.0 848.5,622.0 849.5,622.0 850.5,622.0 851.5,622.0 852.5,622.0 853.5,622.0 854.5,622.0 855.5,622.0 856.5,622.0 857.5,622.0 858.5,622.0 859.5,622.0 860.5,622.0 861.5,622.0 862.5,622.0 863.5,622.0 864.5,622.0 865.5,622.0 866.5,576.2 867.5,576.2 868.5,566.9 869.5,576.2 870.5,576.2 871.5,622.0 872.5,622.0 873.5,622.0 874.5,622.0 875.5,622.0 876.5,622.0 877.5,622.0 878.5,622.0 879.5,556.2 880.5,556.2 881.5,556.2 882.5,535.2 883.5,556.2 884.5,556.2 885.5,556.2 886.5,622.0 887.5,622.0 888.5,622.0 889.5,622.0 890.5,622.0 891.5,622.0 892.5,593.4 893.5,593.4 894.5,558.5 895.5,593.4 896.5,593.4 897.5,622.0 898.5,622.0 899.5,622.0 900.5,622.0 901.5,622.0 902.5,622.0 903.5,622.0 904.5,622.0 905.5,622.0 906.5,622.0 907.5,622.0 908.5,622.0 909.5,622.0 910.5,622.0 911.5,622.0" fill="none" stroke="#00ff40" stroke-width="1" stroke-linejoin="round" />
<polyline points="150.0,100.5 232.0,100.5 237.5,105.0 250.0,118.8 262.5,133.0 267.5,134.0 275.0,142.5 282.5,145.0 290.0,150.5 310.0,151.0 320.0,151.5 325.0,147.5 340.0,145.8 346.0,141.0 375.0,140.0 381.0,135.5 387.5,138.8 394.0,135.8 405.0,141.0 406.0,143.8 416.0,146.2 426.0,155.0 431.0,162.5 438.5,178.8 446.0,193.8 452.2,205.0 456.0,218.8 462.2,230.0 467.2,240.5 471.0,252.0 476.0,259.5 481.0,269.5 486.0,275.8 492.2,270.0 496.0,279.5 499.8,292.0 506.0,307.0 511.0,315.8 516.0,317.0 521.0,325.8 524.8,330.8 527.2,352.0 529.8,377.0 532.2,389.5 536.0,388.2 542.2,385.8 547.2,383.2 551.0,390.8 556.0,398.2 561.0,399.5 566.0,397.0 569.8,389.5 573.5,390.8 577.2,384.5 581.0,393.2 584.8,398.2 588.5,399.5 593.5,397.0 598.5,398.2 602.2,394.5 606.0,389.5 609.8,397.0 613.5,405.8 617.2,408.2 621.0,402.0 626.0,402.0 629.8,400.8 634.8,405.8 639.8,413.2 643.5,420.8 648.5,422.0 656.0,419.5 661.0,417.0 662.0,414.5 667.0,407.0 673.2,402.0 678.2,397.0 680.8,395.8 685.8,398.2 690.8,393.2 699.5,380.8 709.5,372.0 722.0,369.5 728.2,365.8 733.2,367.0 742.0,360.8 749.5,355.8 758.2,357.0 764.5,350.8 768.2,339.5 772.0,322.0 775.8,302.0 779.5,287.0 784.5,273.2 792.0,263.2 802.0,254.5 809.5,247.0 817.0,242.0 824.5,237.5 834.5,229.5 842.0,223.8 848.2,218.8 854.5,211.2 858.2,205.0 860.8,195.0 863.2,185.0 867.0,173.8 870.8,166.2 877.0,158.8 882.0,153.8 888.2,146.2 897.0,137.5 903.2,135.8 910.8,131.8" fill="none" stroke="#808080" stroke-width="2" stroke-linejoin="round" />
<polyline points="150.0,425.0 178.8,425.0 181.2,417.5 187.5,412.5 192.5,411.8 226.2,411.8 228.8,420.0 233.8,423.8 237.5,418.8 243.8,413.0 250.0,411.8 453.5,411.8 454.0,412.8 519.6,412.8 520.0,417.4 527.0,425.0 532.0,425.5 534.8,424.0 537.2,417.0 541.0,415.2 546.0,414.0 556.0,413.5 591.0,413.2 606.0,412.5 662.0,414.0 684.5,414.0 687.0,407.0 692.0,402.0 699.5,400.0 748.2,400.0 753.2,392.0 758.2,387.5 767.0,386.5 789.5,385.8 790.8,380.8 797.0,374.0 805.8,372.0 820.8,371.5 822.0,365.8 827.0,362.0 832.0,359.5 855.8,358.2 899.5,357.5 900.8,352.0 905.8,347.0 910.8,345.0" fill="none" stroke="#000" stroke-width="2" stroke-linejoin="round" />
<polyline points="150.0,401.2 182.5,400.0 191.2,398.2 207.5,400.5 225.0,401.2 232.5,404.2 242.5,405.0 246.2,408.2 260.0,408.2 266.2,409.5 268.8,411.8 295.0,411.8 297.5,409.5 301.2,415.0 310.0,417.5 316.2,419.5 323.8,419.5 330.0,416.2 337.5,412.5 350.0,410.5 357.5,405.8 368.8,404.5 376.2,399.5 385.0,395.5 393.8,386.2 400.0,381.2 406.0,372.0 411.0,368.2 417.2,359.5 423.5,352.0 432.2,345.8 436.0,338.2 437.2,334.5 439.8,337.0 447.2,335.8 450.5,325.8 452.2,315.8 454.0,324.5 457.2,315.8 461.0,303.2 463.0,298.2 466.0,289.5 468.0,295.8 470.2,309.5 473.0,308.2 476.0,282.0 478.5,263.2 481.0,267.0 483.5,282.0 486.0,289.5 488.0,287.0 491.0,263.2 493.5,242.0 496.5,237.0 498.5,240.0 502.2,235.0 505.5,230.8 507.2,243.2 509.0,252.0 512.2,255.8 516.0,257.0 519.8,253.2 523.5,249.5 525.5,237.0 527.2,245.8 529.8,259.5 533.5,275.8 536.0,281.5 539.8,275.8 543.5,269.5 547.2,257.0 550.5,250.8 553.5,255.8 557.2,257.0 561.0,267.0 564.8,275.8 568.0,279.0 571.0,269.5 573.5,257.0 575.0,242.0 576.0,220.0 577.2,208.8 579.0,212.5 581.0,222.5 582.2,225.0 584.0,242.0 587.2,252.0 589.8,247.0 591.0,242.0 593.0,237.0 595.0,244.5 596.5,259.5 599.8,262.0 603.5,263.2 604.8,242.0 605.5,222.5 606.5,232.5 607.5,223.8 608.5,232.5 609.8,210.0 611.0,204.5 612.5,212.5 614.2,220.0 616.0,230.0 618.5,238.8 621.0,232.5 624.2,225.5 626.0,228.8 628.0,226.2 629.8,207.5 632.2,185.0 634.2,172.5 637.2,176.2 639.8,175.8 641.8,182.5 643.5,193.8 645.5,195.0 647.2,177.5 648.5,160.0 650.2,146.2 651.8,153.8 653.5,177.5 655.2,200.0 657.2,220.0 659.8,228.8 662.0,232.5 664.5,238.8 666.0,241.0 668.2,220.0 670.0,216.2 672.0,220.0 674.5,230.0 677.5,236.2 679.5,222.5 683.2,215.0 685.8,222.5 687.5,232.5 689.0,242.0 690.8,253.2 694.5,263.2 699.5,265.8 703.2,265.8 708.2,260.8 712.0,262.5 715.8,267.0 722.0,269.5 730.8,270.8 734.5,275.8 739.5,290.8 744.5,292.0 753.2,292.8 758.2,299.5 763.2,309.5 767.0,319.5 770.8,332.0 775.8,340.8 782.0,343.2 789.5,349.5 799.5,353.2 809.5,357.0 822.0,362.0 834.5,363.2 838.2,369.5 843.2,382.0 849.5,392.0 854.5,398.2 857.0,401.5 860.8,397.0 867.0,395.8 874.5,399.5 882.0,392.0 888.2,386.5 893.2,387.5 899.5,397.0 903.2,400.0 907.0,397.0 910.8,390.8" fill="none" stroke="#800000" stroke-width="2" stroke-linejoin="round" />
<polyline points="150.0,401.2 180.0,399.5 191.0,398.2 207.5,399.5 222.5,398.8 230.0,398.8 231.2,402.0 242.5,403.0 257.5,405.0 267.5,406.2 272.5,405.0 275.0,408.0 290.0,409.5 295.0,408.8 300.0,407.0 310.0,411.2 320.0,415.0 325.0,417.5 330.0,416.2 336.2,413.8 345.0,413.0 360.0,411.2 372.5,410.0 380.0,405.0 391.2,402.5 400.0,395.0 406.0,391.5 413.5,383.2 421.0,375.8 426.0,369.5 433.5,360.8 441.0,352.8 448.5,352.0 456.0,342.0 463.5,330.8 467.2,325.8 469.8,328.2 473.5,330.0 477.2,319.5 480.5,310.8 483.5,313.2 486.0,315.8 489.8,308.2 493.5,298.2 496.0,292.8 501.0,290.8 506.0,286.5 509.8,289.5 513.5,292.0 519.8,292.0 524.8,284.5 528.5,279.5 531.0,284.5 534.8,292.0 538.5,294.5 543.5,292.0 547.2,284.5 551.0,280.2 556.0,281.5 559.8,287.0 564.8,292.0 569.8,292.8 573.5,287.0 577.2,272.0 581.0,267.0 583.5,270.8 586.0,277.0 589.8,279.5 593.5,275.8 597.2,282.0 601.0,287.0 604.8,287.8 607.2,274.5 609.8,265.8 612.2,261.5 616.0,264.5 619.8,268.2 623.5,267.0 628.5,265.8 631.0,257.0 634.8,248.2 638.5,244.5 642.2,246.5 646.0,252.0 651.0,243.2 653.5,245.8 657.2,255.8 661.0,263.2 662.0,265.8 667.0,266.5 672.0,260.8 678.2,261.5 684.5,255.8 687.0,259.5 690.8,269.5 695.8,278.2 699.5,281.5 715.8,282.0 720.8,283.2 729.5,282.0 734.5,285.8 739.5,291.5 754.5,292.8 760.8,298.2 764.5,303.2 768.2,314.5 772.0,327.0 777.0,337.0 784.5,344.5 792.0,349.5 802.0,354.5 812.0,357.5 824.5,361.5 837.0,362.8 844.5,367.0 852.0,373.2 859.5,378.2 869.5,382.0 874.5,384.5 882.0,384.0 889.5,380.8 895.8,380.2 902.0,384.0 908.2,387.0 910.8,386.5" fill="none" stroke="#ff0000" stroke-width="2" stroke-linejoin="round" />
<rect x="152" y="206" width="2" height="2" fill="#008000"/>
<rect x="156" y="191" width="2" height="2" fill="#008000"/>
<rect x="157" y="204" width="2" height="2" fill="#008000"/>
<rect x="158" y="210" width="2" height="2" fill="#008000"/>
<rect x="160" y="218" width="2" height="2" fill="#008000"/>
<rect x="162" y="216" width="2" height="2" fill="#008000"/>
<rect x="163" y="194" width="2" height="2" fill="#008000"/>
<rect x="164" y="199" width="2" height="2" fill="#008000"/>
<rect x="165" y="205" width="2" height="2" fill="#008000"/>
<rect x="172" y="160" width="2" height="2" fill="#008000"/>
<rect x="173" y="156" width="2" height="2" fill="#008000"/>
<rect x="174" y="154" width="2" height="2" fill="#008000"/>
<rect x="177" y="168" width="2" height="2" fill="#008000"/>
<rect x="195" y="192" width="2" height="2" fill="#008000"/>
<rect x="196" y="207" width="2" height="2" fill="#008000"/>
<rect x="211" y="145" width="2" height="2" fill="#008000"/>
<rect x="214" y="140" width="2" height="2" fill="#008000"/>
<rect x="218" y="133" width="2" height="2" fill="#008000"/>
<rect x="219" y="129" width="2" height="2" fill="#008000"/>
<rect x="220" y="149" width="2" height="2" fill="#008000"/>
<rect x="221" y="137" width="2" height="2" fill="#008000"/>
<rect x="222" y="142" width="2" height="2" fill="#008000"/>
<rect x="223" y="135" width="2" height="2" fill="#008000"/>
<rect x="224" y="138" width="2" height="2" fill="#008000"/>
<rect x="226" y="140" width="2" height="2" fill="#008000"/>
<rect x="227" y="135" width="2" height="2" fill="#008000"/>
<rect x="228" y="149" width="2" height="2" fill="#008000"/>
<rect x="229" y="135" width="2" height="2" fill="#008000"/>
<rect x="231" y="131" width="2" height="2" fill="#008000"/>
<rect x="232" y="139" width="2" height="2" fill="#008000"/>
<rect x="233" y="124" width="2" height="2" fill="#008000"/>
<rect x="234" y="139" width="2" height="2" fill="#008000"/>
<rect x="236" y="114" width="2" height="2" fill="#008000"/>
<rect x="237" y="128" width="2" height="2" fill="#008000"/>
<rect x="242" y="101" width="2" height="2" fill="#008000"/>
<rect x="244" y="93" width="2" height="2" fill="#008000"/>
<rect x="245" y="103" width="2" height="2" fill="#008000"/>
<rect x="246" y="128" width="2" height="2" fill="#008000"/>
<rect x="248" y="113" width="2" height="2" fill="#008000"/>
<rect x="249" y="106" width="2" height="2" fill="#008000"/>
<rect x="250" y="99" width="2" height="2" fill="#008000"/>
<rect x="252" y="161" width="2" height="2" fill="#008000"/>
<rect x="253" y="189" width="2" height="2" fill="#008000"/>
<rect x="270" y="185" width="2" height="2" fill="#008000"/>
<rect x="274" y="146" width="2" height="2" fill="#008000"/>
<rect x="275" y="148" width="2" height="2" fill="#008000"/>
<rect x="276" y="124" width="2" height="2" fill="#008000"/>
<rect x="277" y="118" width="2" height="2" fill="#008000"/>
<rect x="279" y="157" width="2" height="2" fill="#008000"/>
<rect x="303" y="222" width="2" height="2" fill="#008000"/>
<rect x="304" y="188" width="2" height="2" fill="#008000"/>
<rect x="305" y="161" width="2" height="2" fill="#008000"/>
<rect x="306" y="164" width="2" height="2" fill="#008000"/>
<rect x="307" y="156" width="2" height="2" fill="#008000"/>
<rect x="310" y="138" width="2" height="2" fill="#008000"/>
<rect x="268" y="246" width="2" height="2" fill="#008000"/>
<rect x="318" y="253" width="2" height="2" fill="#008000"/>
<rect x="251" y="274" width="2" height="2" fill="#008000"/>
<rect x="267" y="271" width="2" height="2" fill="#008000"/>
<rect x="282" y="270" width="2" height="2" fill="#008000"/>
<rect x="278" y="280" width="2" height="2" fill="#008000"/>
<rect x="301" y="291" width="2" height="2" fill="#008000"/>
<rect x="300" y="359" width="2" height="2" fill="#008000"/>
<rect x="257" y="364" width="2" height="2" fill="#008000"/>
<rect x="325" y="509" width="2" height="2" fill="#008000"/>
<rect x="867" y="161" width="2" height="2" fill="#008000"/>
<rect x="880" y="179" width="2" height="2" fill="#008000"/>
<rect x="882" y="179" width="2" height="2" fill="#008000"/>
<rect x="421" y="333" width="2" height="2" fill="#008000"/>
<rect x="424" y="416" width="2" height="2" fill="#008000"/>
<rect x="513" y="405" width="2" height="2" fill="#008000"/>
<rect x="526" y="407" width="2" height="2" fill="#008000"/>
<rect x="531" y="395" width="2" height="2" fill="#008000"/>
<rect x="534" y="405" width="2" height="2" fill="#008000"/>
<rect x="538" y="398" width="2" height="2" fill="#008000"/>
<rect x="536" y="407" width="2" height="2" fill="#008000"/>
<rect x="571" y="405" width="2" height="2" fill="#008000"/>
<rect x="574" y="406" width="2" height="2" fill="#008000"/>
<rect x="572" y="415" width="2" height="2" fill="#008000"/>
<rect x="570" y="420" width="2" height="2" fill="#008000"/>
<rect x="650" y="351" width="2" height="2" fill="#008000"/>
<rect x="645" y="367" width="2" height="2" fill="#008000"/>
<rect x="643" y="377" width="2" height="2" fill="#008000"/>
<rect x="641" y="384" width="2" height="2" fill="#008000"/>
<rect x="644" y="385" width="2" height="2" fill="#008000"/>
<rect x="648" y="382" width="2" height="2" fill="#008000"/>
<rect x="654" y="382" width="2" height="2" fill="#008000"/>
<rect x="640" y="388" width="2" height="2" fill="#008000"/>
<rect x="646" y="390" width="2" height="2" fill="#008000"/>
<rect x="654" y="391" width="2" height="2" fill="#008000"/>
<rect x="651" y="397" width="2" height="2" fill="#008000"/>
<rect x="641" y="399" width="2" height="2" fill="#008000"/>
<rect x="610" y="411" width="2" height="2" fill="#008000"/>
<rect x="693" y="347" width="2" height="2" fill="#008000"/>
<rect x="775" y="267" width="2" height="2" fill="#008000"/>
<rect x="778" y="264" width="2" height="2" fill="#008000"/>
<rect x="789" y="261" width="2" height="2" fill="#008000"/>
<rect x="776" y="273" width="2" height="2" fill="#008000"/>
<rect x="778" y="277" width="2" height="2" fill="#008000"/>
<rect x="785" y="278" width="2" height="2" fill="#008000"/>
<rect x="775" y="283" width="2" height="2" fill="#008000"/>
<rect x="773" y="290" width="2" height="2" fill="#008000"/>
<rect x="781" y="293" width="2" height="2" fill="#008000"/>
<rect x="772" y="297" width="2" height="2" fill="#008000"/>
<rect x="783" y="299" width="2" height="2" fill="#008000"/>
<rect x="780" y="303" width="2" height="2" fill="#008000"/>
<rect x="784" y="306" width="2" height="2" fill="#008000"/>
<rect x="770" y="313" width="2" height="2" fill="#008000"/>
<rect x="769" y="329" width="2" height="2" fill="#008000"/>
<rect x="765" y="338" width="2" height="2" fill="#008000"/>
<rect x="764" y="350" width="2" height="2" fill="#008000"/>
<rect x="766" y="353" width="2" height="2" fill="#008000"/>
<rect x="761" y="361" width="2" height="2" fill="#008000"/>
<rect x="762" y="370" width="2" height="2" fill="#008000"/>
<rect x="757" y="382" width="2" height="2" fill="#008000"/>
<rect x="753" y="385" width="2" height="2" fill="#008000"/>
<rect x="752" y="390" width="2" height="2" fill="#008000"/>
<rect x="734" y="409" width="2" height="2" fill="#008000"/>
<rect x="731" y="411" width="2" height="2" fill="#008000"/>
<rect x="695" y="410" width="2" height="2" fill="#008000"/>
<rect x="692" y="412" width="2" height="2" fill="#008000"/>
<rect x="662" y="412" width="2" height="2" fill="#008000"/>
<rect x="670" y="420" width="2" height="2" fill="#008000"/>
<rect x="676" y="419" width="2" height="2" fill="#008000"/>
<rect x="683" y="418" width="2" height="2" fill="#008000"/>
<rect x="720" y="419" width="2" height="2" fill="#008000"/>
<rect x="724" y="422" width="2" height="2" fill="#008000"/>
<rect x="730" y="418" width="2" height="2" fill="#008000"/>
<rect x="426" y="438" width="2" height="2" fill="#008000"/>
<rect x="427" y="454" width="2" height="2" fill="#008000"/>
<rect x="428" y="467" width="2" height="2" fill="#008000"/>
<rect x="430" y="469" width="2" height="2" fill="#008000"/>
<rect x="435" y="470" width="2" height="2" fill="#008000"/>
<rect x="438" y="465" width="2" height="2" fill="#008000"/>
<rect x="431" y="475" width="2" height="2" fill="#008000"/>
<rect x="433" y="480" width="2" height="2" fill="#008000"/>
<rect x="436" y="479" width="2" height="2" fill="#008000"/>
<rect x="439" y="476" width="2" height="2" fill="#008000"/>
<rect x="447" y="480" width="2" height="2" fill="#008000"/>
<rect x="442" y="486" width="2" height="2" fill="#008000"/>
<rect x="440" y="488" width="2" height="2" fill="#008000"/>
<rect x="446" y="485" width="2" height="2" fill="#008000"/>
<rect x="443" y="495" width="2" height="2" fill="#008000"/>
<rect x="441" y="497" width="2" height="2" fill="#008000"/>
<rect x="444" y="497" width="2" height="2" fill="#008000"/>
<rect x="450" y="499" width="2" height="2" fill="#008000"/>
<rect x="448" y="503" width="2" height="2" fill="#008000"/>
<rect x="451" y="506" width="2" height="2" fill="#008000"/>
<rect x="453" y="492" width="2" height="2" fill="#008000"/>
<rect x="455" y="496" width="2" height="2" fill="#008000"/>
<rect x="460" y="502" width="2" height="2" fill="#008000"/>
<rect x="462" y="485" width="2" height="2" fill="#008000"/>
<rect x="461" y="468" width="2" height="2" fill="#008000"/>
<rect x="464" y="461" width="2" height="2" fill="#008000"/>
<rect x="465" y="491" width="2" height="2" fill="#008000"/>
<rect x="467" y="499" width="2" height="2" fill="#008000"/>
<rect x="466" y="505" width="2" height="2" fill="#008000"/>
<rect x="468" y="496" width="2" height="2" fill="#008000"/>
<rect x="471" y="496" width="2" height="2" fill="#008000"/>
<rect x="469" y="481" width="2" height="2" fill="#008000"/>
<rect x="470" y="486" width="2" height="2" fill="#008000"/>
<rect x="473" y="486" width="2" height="2" fill="#008000"/>
<rect x="475" y="487" width="2" height="2" fill="#008000"/>
<rect x="476" y="481" width="2" height="2" fill="#008000"/>
<rect x="478" y="484" width="2" height="2" fill="#008000"/>
<rect x="474" y="469" width="2" height="2" fill="#008000"/>
<rect x="479" y="435" width="2" height="2" fill="#008000"/>
<rect x="480" y="453" width="2" height="2" fill="#008000"/>
<rect x="484" y="460" width="2" height="2" fill="#008000"/>
<rect x="482" y="475" width="2" height="2" fill="#008000"/>
<rect x="485" y="481" width="2" height="2" fill="#008000"/>
<rect x="486" y="470" width="2" height="2" fill="#008000"/>
<rect x="488" y="457" width="2" height="2" fill="#008000"/>
<rect x="489" y="460" width="2" height="2" fill="#008000"/>
<rect x="490" y="466" width="2" height="2" fill="#008000"/>
<rect x="493" y="452" width="2" height="2" fill="#008000"/>
<rect x="492" y="480" width="2" height="2" fill="#008000"/>
<rect x="491" y="493" width="2" height="2" fill="#008000"/>
<rect x="494" y="474" width="2" height="2" fill="#008000"/>
<rect x="495" y="440" width="2" height="2" fill="#008000"/>
<rect x="496" y="431" width="2" height="2" fill="#008000"/>
<rect x="497" y="473" width="2" height="2" fill="#008000"/>
<rect x="498" y="469" width="2" height="2" fill="#008000"/>
<rect x="499" y="453" width="2" height="2" fill="#008000"/>
<rect x="502" y="476" width="2" height="2" fill="#008000"/>
<rect x="503" y="493" width="2" height="2" fill="#008000"/>
<rect x="504" y="466" width="2" height="2" fill="#008000"/>
<rect x="505" y="474" width="2" height="2" fill="#008000"/>
<rect x="508" y="479" width="2" height="2" fill="#008000"/>
<rect x="509" y="449" width="2" height="2" fill="#008000"/>
<rect x="510" y="431" width="2" height="2" fill="#008000"/>
<rect x="514" y="441" width="2" height="2" fill="#008000"/>
<rect x="523" y="444" width="2" height="2" fill="#008000"/>
<rect x="524" y="451" width="2" height="2" fill="#008000"/>
<rect x="525" y="441" width="2" height="2" fill="#008000"/>
<rect x="527" y="432" width="2" height="2" fill="#008000"/>
<rect x="532" y="418" width="2" height="2" fill="#008000"/>
<rect x="530" y="467" width="2" height="2" fill="#008000"/>
<rect x="528" y="473" width="2" height="2" fill="#008000"/>
<rect x="529" y="490" width="2" height="2" fill="#008000"/>
<rect x="534" y="409" width="2" height="2" fill="#008000"/>
<rect x="540" y="415" width="2" height="2" fill="#008000"/>
<rect x="542" y="420" width="2" height="2" fill="#008000"/>
<rect x="536" y="432" width="2" height="2" fill="#008000"/>
<rect x="541" y="443" width="2" height="2" fill="#008000"/>
<rect x="550" y="444" width="2" height="2" fill="#008000"/>
<rect x="570" y="416" width="2" height="2" fill="#008000"/>
<rect x="574" y="419" width="2" height="2" fill="#008000"/>
<rect x="566" y="428" width="2" height="2" fill="#008000"/>
<rect x="564" y="438" width="2" height="2" fill="#008000"/>
<rect x="567" y="447" width="2" height="2" fill="#008000"/>
<rect x="586" y="427" width="2" height="2" fill="#008000"/>
<rect x="587" y="432" width="2" height="2" fill="#008000"/>
<rect x="581" y="433" width="2" height="2" fill="#008000"/>
<rect x="590" y="434" width="2" height="2" fill="#008000"/>
<rect x="585" y="437" width="2" height="2" fill="#008000"/>
<rect x="589" y="437" width="2" height="2" fill="#008000"/>
<rect x="588" y="442" width="2" height="2" fill="#008000"/>
<rect x="584" y="448" width="2" height="2" fill="#008000"/>
<rect x="598" y="427" width="2" height="2" fill="#008000"/>
<rect x="609" y="419" width="2" height="2" fill="#008000"/>
<rect x="612" y="437" width="2" height="2" fill="#008000"/>
<rect x="613" y="439" width="2" height="2" fill="#008000"/>
<rect x="610" y="448" width="2" height="2" fill="#008000"/>
<rect x="646" y="369" width="2" height="2" fill="#008000"/>
<rect x="649" y="388" width="2" height="2" fill="#008000"/>
<rect x="651" y="416" width="2" height="2" fill="#008000"/>
<rect x="656" y="421" width="2" height="2" fill="#008000"/>
<rect x="659" y="431" width="2" height="2" fill="#008000"/>
<rect x="661" y="440" width="2" height="2" fill="#008000"/>
<rect x="638" y="448" width="2" height="2" fill="#008000"/>
<rect x="544" y="451" width="2" height="2" fill="#008000"/>
<rect x="546" y="456" width="2" height="2" fill="#008000"/>
<rect x="562" y="456" width="2" height="2" fill="#008000"/>
<rect x="559" y="462" width="2" height="2" fill="#008000"/>
<rect x="554" y="465" width="2" height="2" fill="#008000"/>
<rect x="576" y="451" width="2" height="2" fill="#008000"/>
<rect x="579" y="451" width="2" height="2" fill="#008000"/>
<rect x="583" y="461" width="2" height="2" fill="#008000"/>
<rect x="578" y="464" width="2" height="2" fill="#008000"/>
<rect x="582" y="468" width="2" height="2" fill="#008000"/>
<rect x="568" y="470" width="2" height="2" fill="#008000"/>
<rect x="563" y="472" width="2" height="2" fill="#008000"/>
<rect x="557" y="472" width="2" height="2" fill="#008000"/>
<rect x="558" y="477" width="2" height="2" fill="#008000"/>
<rect x="561" y="480" width="2" height="2" fill="#008000"/>
<rect x="565" y="480" width="2" height="2" fill="#008000"/>
<rect x="553" y="476" width="2" height="2" fill="#008000"/>
<rect x="548" y="477" width="2" height="2" fill="#008000"/>
<rect x="545" y="475" width="2" height="2" fill="#008000"/>
<rect x="549" y="471" width="2" height="2" fill="#008000"/>
<rect x="555" y="484" width="2" height="2" fill="#008000"/>
<rect x="547" y="488" width="2" height="2" fill="#008000"/>
<rect x="556" y="498" width="2" height="2" fill="#008000"/>
<rect x="580" y="480" width="2" height="2" fill="#008000"/>
<rect x="591" y="451" width="2" height="2" fill="#008000"/>
<rect x="592" y="457" width="2" height="2" fill="#008000"/>
<rect x="595" y="463" width="2" height="2" fill="#008000"/>
<rect x="600" y="464" width="2" height="2" fill="#008000"/>
<rect x="596" y="466" width="2" height="2" fill="#008000"/>
<rect x="603" y="468" width="2" height="2" fill="#008000"/>
<rect x="607" y="467" width="2" height="2" fill="#008000"/>
<rect x="608" y="463" width="2" height="2" fill="#008000"/>
<rect x="616" y="458" width="2" height="2" fill="#008000"/>
<rect x="618" y="461" width="2" height="2" fill="#008000"/>
<rect x="622" y="465" width="2" height="2" fill="#008000"/>
<rect x="628" y="465" width="2" height="2" fill="#008000"/>
<rect x="629" y="469" width="2" height="2" fill="#008000"/>
<rect x="627" y="471" width="2" height="2" fill="#008000"/>
<rect x="625" y="472" width="2" height="2" fill="#008000"/>
<rect x="620" y="472" width="2" height="2" fill="#008000"/>
<rect x="614" y="473" width="2" height="2" fill="#008000"/>
<rect x="621" y="479" width="2" height="2" fill="#008000"/>
<rect x="625" y="478" width="2" height="2" fill="#008000"/>
<rect x="618" y="483" width="2" height="2" fill="#008000"/>
<rect x="624" y="492" width="2" height="2" fill="#008000"/>
<rect x="630" y="498" width="2" height="2" fill="#008000"/>
<rect x="633" y="499" width="2" height="2" fill="#008000"/>
<rect x="633" y="490" width="2" height="2" fill="#008000"/>
<rect x="631" y="505" width="2" height="2" fill="#008000"/>
<rect x="658" y="470" width="2" height="2" fill="#008000"/>
<rect x="660" y="481" width="2" height="2" fill="#008000"/>
<rect x="682" y="429" width="2" height="2" fill="#008000"/>
<rect x="694" y="429" width="2" height="2" fill="#008000"/>
<rect x="674" y="435" width="2" height="2" fill="#008000"/>
<rect x="677" y="435" width="2" height="2" fill="#008000"/>
<rect x="684" y="434" width="2" height="2" fill="#008000"/>
<rect x="689" y="437" width="2" height="2" fill="#008000"/>
<rect x="666" y="443" width="2" height="2" fill="#008000"/>
<rect x="668" y="443" width="2" height="2" fill="#008000"/>
<rect x="688" y="441" width="2" height="2" fill="#008000"/>
<rect x="685" y="444" width="2" height="2" fill="#008000"/>
<rect x="680" y="446" width="2" height="2" fill="#008000"/>
<rect x="663" y="449" width="2" height="2" fill="#008000"/>
<rect x="667" y="448" width="2" height="2" fill="#008000"/>
<rect x="640" y="448" width="2" height="2" fill="#008000"/>
<rect x="696" y="451" width="2" height="2" fill="#008000"/>
<rect x="668" y="453" width="2" height="2" fill="#008000"/>
<rect x="671" y="456" width="2" height="2" fill="#008000"/>
<rect x="665" y="456" width="2" height="2" fill="#008000"/>
<rect x="672" y="461" width="2" height="2" fill="#008000"/>
<rect x="686" y="457" width="2" height="2" fill="#008000"/>
<rect x="690" y="457" width="2" height="2" fill="#008000"/>
<rect x="687" y="461" width="2" height="2" fill="#008000"/>
<rect x="706" y="459" width="2" height="2" fill="#008000"/>
<rect x="710" y="460" width="2" height="2" fill="#008000"/>
<rect x="708" y="465" width="2" height="2" fill="#008000"/>
<rect x="715" y="466" width="2" height="2" fill="#008000"/>
<rect x="675" y="475" width="2" height="2" fill="#008000"/>
<rect x="698" y="472" width="2" height="2" fill="#008000"/>
<rect x="700" y="473" width="2" height="2" fill="#008000"/>
<rect x="702" y="470" width="2" height="2" fill="#008000"/>
<rect x="701" y="476" width="2" height="2" fill="#008000"/>
<rect x="699" y="477" width="2" height="2" fill="#008000"/>
<rect x="712" y="474" width="2" height="2" fill="#008000"/>
<rect x="707" y="478" width="2" height="2" fill="#008000"/>
<rect x="717" y="479" width="2" height="2" fill="#008000"/>
<rect x="705" y="484" width="2" height="2" fill="#008000"/>
<rect x="703" y="489" width="2" height="2" fill="#008000"/>
<rect x="704" y="496" width="2" height="2" fill="#008000"/>
<rect x="714" y="448" width="2" height="2" fill="#008000"/>
<rect x="713" y="450" width="2" height="2" fill="#008000"/>
<rect x="718" y="456" width="2" height="2" fill="#008000"/>
<rect x="725" y="457" width="2" height="2" fill="#008000"/>
<rect x="723" y="449" width="2" height="2" fill="#008000"/>
<rect x="726" y="446" width="2" height="2" fill="#008000"/>
<rect x="721" y="436" width="2" height="2" fill="#008000"/>
<rect x="722" y="432" width="2" height="2" fill="#008000"/>
<rect x="732" y="419" width="2" height="2" fill="#008000"/>
<rect x="743" y="425" width="2" height="2" fill="#008000"/>
<rect x="742" y="440" width="2" height="2" fill="#008000"/>
<rect x="151.0" y="620.5" width="760.0" height="2" fill="#0000d0"/>
<rect x="150" y="61" width="2" height="562" fill="#808080"/>
<rect x="150" y="61" width="762" height="2" fill="#808080"/>
<rect x="910" y="61" width="2" height="562" fill="#808080"/>
<line x1="40.5" y1="62.0" x2="40.5" y2="623.0" stroke="#808080" stroke-width="1" />
<line x1="36" y1="622.5" x2="40.5" y2="622.5" stroke="#808080" stroke-width="1" />
<text transform="translate(35.00,626.80) scale(0.82,1)" font-size="13" fill="#ff0000" stroke="#ff0000" stroke-width="0.2" text-anchor="end">0.0</text>
<line x1="36" y1="603.5" x2="40.5" y2="603.5" stroke="#808080" stroke-width="1" />
<text transform="translate(35.00,608.13) scale(0.82,1)" font-size="13" fill="#ff0000" stroke="#ff0000" stroke-width="0.2" text-anchor="end">1.0</text>
<line x1="36" y1="585.5" x2="40.5" y2="585.5" stroke="#808080" stroke-width="1" />
<text transform="translate(35.00,589.47) scale(0.82,1)" font-size="13" fill="#ff0000" stroke="#ff0000" stroke-width="0.2" text-anchor="end">2.0</text>
<line x1="36" y1="566.5" x2="40.5" y2="566.5" stroke="#808080" stroke-width="1" />
<text transform="translate(35.00,570.80) scale(0.82,1)" font-size="13" fill="#ff0000" stroke="#ff0000" stroke-width="0.2" text-anchor="end">3.0</text>
<line x1="36" y1="547.5" x2="40.5" y2="547.5" stroke="#808080" stroke-width="1" />
<text transform="translate(35.00,552.13) scale(0.82,1)" font-size="13" fill="#ff0000" stroke="#ff0000" stroke-width="0.2" text-anchor="end">4.0</text>
<line x1="36" y1="529.5" x2="40.5" y2="529.5" stroke="#808080" stroke-width="1" />
<text transform="translate(35.00,533.47) scale(0.82,1)" font-size="13" fill="#ff0000" stroke="#ff0000" stroke-width="0.2" text-anchor="end">5.0</text>
<line x1="36" y1="510.5" x2="40.5" y2="510.5" stroke="#808080" stroke-width="1" />
<text transform="translate(35.00,514.80) scale(0.82,1)" font-size="13" fill="#ff0000" stroke="#ff0000" stroke-width="0.2" text-anchor="end">6.0</text>
<line x1="36" y1="491.5" x2="40.5" y2="491.5" stroke="#808080" stroke-width="1" />
<text transform="translate(35.00,496.13) scale(0.82,1)" font-size="13" fill="#ff0000" stroke="#ff0000" stroke-width="0.2" text-anchor="end">7.0</text>
<line x1="36" y1="473.5" x2="40.5" y2="473.5" stroke="#808080" stroke-width="1" />
<text transform="translate(35.00,477.47) scale(0.82,1)" font-size="13" fill="#ff0000" stroke="#ff0000" stroke-width="0.2" text-anchor="end">8.0</text>
<line x1="36" y1="454.5" x2="40.5" y2="454.5" stroke="#808080" stroke-width="1" />
<text transform="translate(35.00,458.80) scale(0.82,1)" font-size="13" fill="#ff0000" stroke="#ff0000" stroke-width="0.2" text-anchor="end">9.0</text>
<line x1="36" y1="435.5" x2="40.5" y2="435.5" stroke="#808080" stroke-width="1" />
<text transform="translate(35.00,440.13) scale(0.82,1)" font-size="13" fill="#ff0000" stroke="#ff0000" stroke-width="0.2" text-anchor="end">10.0</text>
<line x1="36" y1="417.5" x2="40.5" y2="417.5" stroke="#808080" stroke-width="1" />
<text transform="translate(35.00,421.47) scale(0.82,1)" font-size="13" fill="#ff0000" stroke="#ff0000" stroke-width="0.2" text-anchor="end">11.0</text>
<line x1="36" y1="398.5" x2="40.5" y2="398.5" stroke="#808080" stroke-width="1" />
<text transform="translate(35.00,402.80) scale(0.82,1)" font-size="13" fill="#ff0000" stroke="#ff0000" stroke-width="0.2" text-anchor="end">12.0</text>
<line x1="36" y1="379.5" x2="40.5" y2="379.5" stroke="#808080" stroke-width="1" />
<text transform="translate(35.00,384.13) scale(0.82,1)" font-size="13" fill="#ff0000" stroke="#ff0000" stroke-width="0.2" text-anchor="end">13.0</text>
<line x1="36" y1="361.5" x2="40.5" y2="361.5" stroke="#808080" stroke-width="1" />
<text transform="translate(35.00,365.47) scale(0.82,1)" font-size="13" fill="#ff0000" stroke="#ff0000" stroke-width="0.2" text-anchor="end">14.0</text>
<line x1="36" y1="342.5" x2="40.5" y2="342.5" stroke="#808080" stroke-width="1" />
<text transform="translate(35.00,346.80) scale(0.82,1)" font-size="13" fill="#ff0000" stroke="#ff0000" stroke-width="0.2" text-anchor="end">15.0</text>
<line x1="36" y1="323.5" x2="40.5" y2="323.5" stroke="#808080" stroke-width="1" />
<text transform="translate(35.00,328.13) scale(0.82,1)" font-size="13" fill="#ff0000" stroke="#ff0000" stroke-width="0.2" text-anchor="end">16.0</text>
<line x1="36" y1="305.5" x2="40.5" y2="305.5" stroke="#808080" stroke-width="1" />
<text transform="translate(35.00,309.47) scale(0.82,1)" font-size="13" fill="#ff0000" stroke="#ff0000" stroke-width="0.2" text-anchor="end">17.0</text>
<line x1="36" y1="286.5" x2="40.5" y2="286.5" stroke="#808080" stroke-width="1" />
<text transform="translate(35.00,290.80) scale(0.82,1)" font-size="13" fill="#ff0000" stroke="#ff0000" stroke-width="0.2" text-anchor="end">18.0</text>
<line x1="36" y1="267.5" x2="40.5" y2="267.5" stroke="#808080" stroke-width="1" />
<text transform="translate(35.00,272.13) scale(0.82,1)" font-size="13" fill="#ff0000" stroke="#ff0000" stroke-width="0.2" text-anchor="end">19.0</text>
<line x1="36" y1="249.5" x2="40.5" y2="249.5" stroke="#808080" stroke-width="1" />
<text transform="translate(35.00,253.47) scale(0.82,1)" font-size="13" fill="#ff0000" stroke="#ff0000" stroke-width="0.2" text-anchor="end">20.0</text>
<line x1="36" y1="230.5" x2="40.5" y2="230.5" stroke="#808080" stroke-width="1" />
<text transform="translate(35.00,234.80) scale(0.82,1)" font-size="13" fill="#ff0000" stroke="#ff0000" stroke-width="0.2" text-anchor="end">21.0</text>
<line x1="36" y1="211.5" x2="40.5" y2="211.5" stroke="#808080" stroke-width="1" />
<text transform="translate(35.00,216.13) scale(0.82,1)" font-size="13" fill="#ff0000" stroke="#ff0000" stroke-width="0.2" text-anchor="end">22.0</text>
<line x1="36" y1="193.5" x2="40.5" y2="193.5" stroke="#808080" stroke-width="1" />
<text transform="translate(35.00,197.47) scale(0.82,1)" font-size="13" fill="#ff0000" stroke="#ff0000" stroke-width="0.2" text-anchor="end">23.0</text>
<line x1="36" y1="174.5" x2="40.5" y2="174.5" stroke="#808080" stroke-width="1" />
<text transform="translate(35.00,178.80) scale(0.82,1)" font-size="13" fill="#ff0000" stroke="#ff0000" stroke-width="0.2" text-anchor="end">24.0</text>
<line x1="36" y1="155.5" x2="40.5" y2="155.5" stroke="#808080" stroke-width="1" />
<text transform="translate(35.00,160.13) scale(0.82,1)" font-size="13" fill="#ff0000" stroke="#ff0000" stroke-width="0.2" text-anchor="end">25.0</text>
<line x1="36" y1="137.5" x2="40.5" y2="137.5" stroke="#808080" stroke-width="1" />
<text transform="translate(35.00,141.47) scale(0.82,1)" font-size="13" fill="#ff0000" stroke="#ff0000" stroke-width="0.2" text-anchor="end">26.0</text>
<line x1="36" y1="118.5" x2="40.5" y2="118.5" stroke="#808080" stroke-width="1" />
<text transform="translate(35.00,122.80) scale(0.82,1)" font-size="13" fill="#ff0000" stroke="#ff0000" stroke-width="0.2" text-anchor="end">27.0</text>
<line x1="36" y1="99.5" x2="40.5" y2="99.5" stroke="#808080" stroke-width="1" />
<text transform="translate(35.00,104.13) scale(0.82,1)" font-size="13" fill="#ff0000" stroke="#ff0000" stroke-width="0.2" text-anchor="end">28.0</text>
<line x1="36" y1="81.5" x2="40.5" y2="81.5" stroke="#808080" stroke-width="1" />
<text transform="translate(35.00,85.47) scale(0.82,1)" font-size="13" fill="#ff0000" stroke="#ff0000" stroke-width="0.2" text-anchor="end">29.0</text>
<line x1="36" y1="62.5" x2="40.5" y2="62.5" stroke="#808080" stroke-width="1" />
<text transform="translate(35.00,66.80) scale(0.82,1)" font-size="13" fill="#ff0000" stroke="#ff0000" stroke-width="0.2" text-anchor="end">30.0</text>
<line x1="40" y1="62.5" x2="44" y2="62.5" stroke="#808080" stroke-width="1" />
<line x1="40" y1="622.5" x2="44" y2="622.5" stroke="#808080" stroke-width="1" />
<text transform="translate(30.50,50.60) scale(0.82,1)" font-size="13" fill="#ff0000" stroke="#ff0000" stroke-width="0.2" text-anchor="end">°C</text>
<line x1="77.5" y1="62.0" x2="77.5" y2="623.0" stroke="#808080" stroke-width="1" />
<line x1="73" y1="622.5" x2="77.5" y2="622.5" stroke="#808080" stroke-width="1" />
<text transform="translate(72.00,626.80) scale(0.82,1)" font-size="13" fill="#000" stroke="#000" stroke-width="0.2" text-anchor="end">990</text>
<line x1="73" y1="595.5" x2="77.5" y2="595.5" stroke="#808080" stroke-width="1" />
<text transform="translate(72.00,600.13) scale(0.82,1)" font-size="13" fill="#000" stroke="#000" stroke-width="0.2" text-anchor="end">992</text>
<line x1="73" y1="569.5" x2="77.5" y2="569.5" stroke="#808080" stroke-width="1" />
<text transform="translate(72.00,573.47) scale(0.82,1)" font-size="13" fill="#000" stroke="#000" stroke-width="0.2" text-anchor="end">994</text>
<line x1="73" y1="542.5" x2="77.5" y2="542.5" stroke="#808080" stroke-width="1" />
<text transform="translate(72.00,546.80) scale(0.82,1)" font-size="13" fill="#000" stroke="#000" stroke-width="0.2" text-anchor="end">996</text>
<line x1="73" y1="515.5" x2="77.5" y2="515.5" stroke="#808080" stroke-width="1" />
<text transform="translate(72.00,520.13) scale(0.82,1)" font-size="13" fill="#000" stroke="#000" stroke-width="0.2" text-anchor="end">998</text>
<line x1="73" y1="489.5" x2="77.5" y2="489.5" stroke="#808080" stroke-width="1" />
<text transform="translate(72.00,493.47) scale(0.82,1)" font-size="13" fill="#000" stroke="#000" stroke-width="0.2" text-anchor="end">1000</text>
<line x1="73" y1="462.5" x2="77.5" y2="462.5" stroke="#808080" stroke-width="1" />
<text transform="translate(72.00,466.80) scale(0.82,1)" font-size="13" fill="#000" stroke="#000" stroke-width="0.2" text-anchor="end">1002</text>
<line x1="73" y1="435.5" x2="77.5" y2="435.5" stroke="#808080" stroke-width="1" />
<text transform="translate(72.00,440.13) scale(0.82,1)" font-size="13" fill="#000" stroke="#000" stroke-width="0.2" text-anchor="end">1004</text>
<line x1="73" y1="409.5" x2="77.5" y2="409.5" stroke="#808080" stroke-width="1" />
<text transform="translate(72.00,413.47) scale(0.82,1)" font-size="13" fill="#000" stroke="#000" stroke-width="0.2" text-anchor="end">1006</text>
<line x1="73" y1="382.5" x2="77.5" y2="382.5" stroke="#808080" stroke-width="1" />
<text transform="translate(72.00,386.80) scale(0.82,1)" font-size="13" fill="#000" stroke="#000" stroke-width="0.2" text-anchor="end">1008</text>
<line x1="73" y1="355.5" x2="77.5" y2="355.5" stroke="#808080" stroke-width="1" />
<text transform="translate(72.00,360.13) scale(0.82,1)" font-size="13" fill="#000" stroke="#000" stroke-width="0.2" text-anchor="end">1010</text>
<line x1="73" y1="329.5" x2="77.5" y2="329.5" stroke="#808080" stroke-width="1" />
<text transform="translate(72.00,333.47) scale(0.82,1)" font-size="13" fill="#000" stroke="#000" stroke-width="0.2" text-anchor="end">1012</text>
<line x1="73" y1="302.5" x2="77.5" y2="302.5" stroke="#808080" stroke-width="1" />
<text transform="translate(72.00,306.80) scale(0.82,1)" font-size="13" fill="#000" stroke="#000" stroke-width="0.2" text-anchor="end">1014</text>
<line x1="73" y1="275.5" x2="77.5" y2="275.5" stroke="#808080" stroke-width="1" />
<text transform="translate(72.00,280.13) scale(0.82,1)" font-size="13" fill="#000" stroke="#000" stroke-width="0.2" text-anchor="end">1016</text>
<line x1="73" y1="249.5" x2="77.5" y2="249.5" stroke="#808080" stroke-width="1" />
<text transform="translate(72.00,253.47) scale(0.82,1)" font-size="13" fill="#000" stroke="#000" stroke-width="0.2" text-anchor="end">1018</text>
<line x1="73" y1="222.5" x2="77.5" y2="222.5" stroke="#808080" stroke-width="1" />
<text transform="translate(72.00,226.80) scale(0.82,1)" font-size="13" fill="#000" stroke="#000" stroke-width="0.2" text-anchor="end">1020</text>
<line x1="73" y1="195.5" x2="77.5" y2="195.5" stroke="#808080" stroke-width="1" />
<text transform="translate(72.00,200.13) scale(0.82,1)" font-size="13" fill="#000" stroke="#000" stroke-width="0.2" text-anchor="end">1022</text>
<line x1="73" y1="169.5" x2="77.5" y2="169.5" stroke="#808080" stroke-width="1" />
<text transform="translate(72.00,173.47) scale(0.82,1)" font-size="13" fill="#000" stroke="#000" stroke-width="0.2" text-anchor="end">1024</text>
<line x1="73" y1="142.5" x2="77.5" y2="142.5" stroke="#808080" stroke-width="1" />
<text transform="translate(72.00,146.80) scale(0.82,1)" font-size="13" fill="#000" stroke="#000" stroke-width="0.2" text-anchor="end">1026</text>
<line x1="73" y1="115.5" x2="77.5" y2="115.5" stroke="#808080" stroke-width="1" />
<text transform="translate(72.00,120.13) scale(0.82,1)" font-size="13" fill="#000" stroke="#000" stroke-width="0.2" text-anchor="end">1028</text>
<line x1="73" y1="89.5" x2="77.5" y2="89.5" stroke="#808080" stroke-width="1" />
<text transform="translate(72.00,93.47) scale(0.82,1)" font-size="13" fill="#000" stroke="#000" stroke-width="0.2" text-anchor="end">1030</text>
<line x1="73" y1="62.5" x2="77.5" y2="62.5" stroke="#808080" stroke-width="1" />
<text transform="translate(72.00,66.80) scale(0.82,1)" font-size="13" fill="#000" stroke="#000" stroke-width="0.2" text-anchor="end">1032</text>
<line x1="77" y1="62.5" x2="81" y2="62.5" stroke="#808080" stroke-width="1" />
<line x1="77" y1="622.5" x2="81" y2="622.5" stroke="#808080" stroke-width="1" />
<text transform="translate(48.30,50.60) scale(0.82,1)" font-size="13" fill="#000" stroke="#000" stroke-width="0.2">hPa</text>
<line x1="114.5" y1="62.0" x2="114.5" y2="623.0" stroke="#808080" stroke-width="1" />
<line x1="110" y1="622.5" x2="114.5" y2="622.5" stroke="#808080" stroke-width="1" />
<text transform="translate(108.75,626.80) scale(0.82,1)" font-size="13" fill="#008000" stroke="#008000" stroke-width="0.2" text-anchor="end">0.0</text>
<line x1="110" y1="603.5" x2="114.5" y2="603.5" stroke="#808080" stroke-width="1" />
<text transform="translate(108.75,608.13) scale(0.82,1)" font-size="13" fill="#008000" stroke="#008000" stroke-width="0.2" text-anchor="end">2.0</text>
<line x1="110" y1="585.5" x2="114.5" y2="585.5" stroke="#808080" stroke-width="1" />
<text transform="translate(108.75,589.47) scale(0.82,1)" font-size="13" fill="#008000" stroke="#008000" stroke-width="0.2" text-anchor="end">4.0</text>
<line x1="110" y1="566.5" x2="114.5" y2="566.5" stroke="#808080" stroke-width="1" />
<text transform="translate(108.75,570.80) scale(0.82,1)" font-size="13" fill="#008000" stroke="#008000" stroke-width="0.2" text-anchor="end">6.0</text>
<line x1="110" y1="547.5" x2="114.5" y2="547.5" stroke="#808080" stroke-width="1" />
<text transform="translate(108.75,552.13) scale(0.82,1)" font-size="13" fill="#008000" stroke="#008000" stroke-width="0.2" text-anchor="end">8.0</text>
<line x1="110" y1="529.5" x2="114.5" y2="529.5" stroke="#808080" stroke-width="1" />
<text transform="translate(108.75,533.47) scale(0.82,1)" font-size="13" fill="#008000" stroke="#008000" stroke-width="0.2" text-anchor="end">10.0</text>
<line x1="110" y1="510.5" x2="114.5" y2="510.5" stroke="#808080" stroke-width="1" />
<text transform="translate(108.75,514.80) scale(0.82,1)" font-size="13" fill="#008000" stroke="#008000" stroke-width="0.2" text-anchor="end">12.0</text>
<line x1="110" y1="491.5" x2="114.5" y2="491.5" stroke="#808080" stroke-width="1" />
<text transform="translate(108.75,496.13) scale(0.82,1)" font-size="13" fill="#008000" stroke="#008000" stroke-width="0.2" text-anchor="end">14.0</text>
<line x1="110" y1="473.5" x2="114.5" y2="473.5" stroke="#808080" stroke-width="1" />
<text transform="translate(108.75,477.47) scale(0.82,1)" font-size="13" fill="#008000" stroke="#008000" stroke-width="0.2" text-anchor="end">16.0</text>
<line x1="110" y1="454.5" x2="114.5" y2="454.5" stroke="#808080" stroke-width="1" />
<text transform="translate(108.75,458.80) scale(0.82,1)" font-size="13" fill="#008000" stroke="#008000" stroke-width="0.2" text-anchor="end">18.0</text>
<line x1="110" y1="435.5" x2="114.5" y2="435.5" stroke="#808080" stroke-width="1" />
<text transform="translate(108.75,440.13) scale(0.82,1)" font-size="13" fill="#008000" stroke="#008000" stroke-width="0.2" text-anchor="end">20.0</text>
<line x1="110" y1="417.5" x2="114.5" y2="417.5" stroke="#808080" stroke-width="1" />
<text transform="translate(108.75,421.47) scale(0.82,1)" font-size="13" fill="#008000" stroke="#008000" stroke-width="0.2" text-anchor="end">22.0</text>
<line x1="110" y1="398.5" x2="114.5" y2="398.5" stroke="#808080" stroke-width="1" />
<text transform="translate(108.75,402.80) scale(0.82,1)" font-size="13" fill="#008000" stroke="#008000" stroke-width="0.2" text-anchor="end">24.0</text>
<line x1="110" y1="379.5" x2="114.5" y2="379.5" stroke="#808080" stroke-width="1" />
<text transform="translate(108.75,384.13) scale(0.82,1)" font-size="13" fill="#008000" stroke="#008000" stroke-width="0.2" text-anchor="end">26.0</text>
<line x1="110" y1="361.5" x2="114.5" y2="361.5" stroke="#808080" stroke-width="1" />
<text transform="translate(108.75,365.47) scale(0.82,1)" font-size="13" fill="#008000" stroke="#008000" stroke-width="0.2" text-anchor="end">28.0</text>
<line x1="110" y1="342.5" x2="114.5" y2="342.5" stroke="#808080" stroke-width="1" />
<text transform="translate(108.75,346.80) scale(0.82,1)" font-size="13" fill="#008000" stroke="#008000" stroke-width="0.2" text-anchor="end">30.0</text>
<line x1="110" y1="323.5" x2="114.5" y2="323.5" stroke="#808080" stroke-width="1" />
<text transform="translate(108.75,328.13) scale(0.82,1)" font-size="13" fill="#008000" stroke="#008000" stroke-width="0.2" text-anchor="end">32.0</text>
<line x1="110" y1="305.5" x2="114.5" y2="305.5" stroke="#808080" stroke-width="1" />
<text transform="translate(108.75,309.47) scale(0.82,1)" font-size="13" fill="#008000" stroke="#008000" stroke-width="0.2" text-anchor="end">34.0</text>
<line x1="110" y1="286.5" x2="114.5" y2="286.5" stroke="#808080" stroke-width="1" />
<text transform="translate(108.75,290.80) scale(0.82,1)" font-size="13" fill="#008000" stroke="#008000" stroke-width="0.2" text-anchor="end">36.0</text>
<line x1="110" y1="267.5" x2="114.5" y2="267.5" stroke="#808080" stroke-width="1" />
<text transform="translate(108.75,272.13) scale(0.82,1)" font-size="13" fill="#008000" stroke="#008000" stroke-width="0.2" text-anchor="end">38.0</text>
<line x1="110" y1="249.5" x2="114.5" y2="249.5" stroke="#808080" stroke-width="1" />
<text transform="translate(108.75,253.47) scale(0.82,1)" font-size="13" fill="#008000" stroke="#008000" stroke-width="0.2" text-anchor="end">40.0</text>
<line x1="110" y1="230.5" x2="114.5" y2="230.5" stroke="#808080" stroke-width="1" />
<text transform="translate(108.75,234.80) scale(0.82,1)" font-size="13" fill="#008000" stroke="#008000" stroke-width="0.2" text-anchor="end">42.0</text>
<line x1="110" y1="211.5" x2="114.5" y2="211.5" stroke="#808080" stroke-width="1" />
<text transform="translate(108.75,216.13) scale(0.82,1)" font-size="13" fill="#008000" stroke="#008000" stroke-width="0.2" text-anchor="end">44.0</text>
<line x1="110" y1="193.5" x2="114.5" y2="193.5" stroke="#808080" stroke-width="1" />
<text transform="translate(108.75,197.47) scale(0.82,1)" font-size="13" fill="#008000" stroke="#008000" stroke-width="0.2" text-anchor="end">46.0</text>
<line x1="110" y1="174.5" x2="114.5" y2="174.5" stroke="#808080" stroke-width="1" />
<text transform="translate(108.75,178.80) scale(0.82,1)" font-size="13" fill="#008000" stroke="#008000" stroke-width="0.2" text-anchor="end">48.0</text>
<line x1="110" y1="155.5" x2="114.5" y2="155.5" stroke="#808080" stroke-width="1" />
<text transform="translate(108.75,160.13) scale(0.82,1)" font-size="13" fill="#008000" stroke="#008000" stroke-width="0.2" text-anchor="end">50.0</text>
<line x1="110" y1="137.5" x2="114.5" y2="137.5" stroke="#808080" stroke-width="1" />
<text transform="translate(108.75,141.47) scale(0.82,1)" font-size="13" fill="#008000" stroke="#008000" stroke-width="0.2" text-anchor="end">52.0</text>
<line x1="110" y1="118.5" x2="114.5" y2="118.5" stroke="#808080" stroke-width="1" />
<text transform="translate(108.75,122.80) scale(0.82,1)" font-size="13" fill="#008000" stroke="#008000" stroke-width="0.2" text-anchor="end">54.0</text>
<line x1="110" y1="99.5" x2="114.5" y2="99.5" stroke="#808080" stroke-width="1" />
<text transform="translate(108.75,104.13) scale(0.82,1)" font-size="13" fill="#008000" stroke="#008000" stroke-width="0.2" text-anchor="end">56.0</text>
<line x1="110" y1="81.5" x2="114.5" y2="81.5" stroke="#808080" stroke-width="1" />
<text transform="translate(108.75,85.47) scale(0.82,1)" font-size="13" fill="#008000" stroke="#008000" stroke-width="0.2" text-anchor="end">58.0</text>
<line x1="110" y1="62.5" x2="114.5" y2="62.5" stroke="#808080" stroke-width="1" />
<text transform="translate(108.75,66.80) scale(0.82,1)" font-size="13" fill="#008000" stroke="#008000" stroke-width="0.2" text-anchor="end">60.0</text>
<line x1="114" y1="62.5" x2="118" y2="62.5" stroke="#808080" stroke-width="1" />
<line x1="114" y1="622.5" x2="118" y2="622.5" stroke="#808080" stroke-width="1" />
<text transform="translate(80.00,50.60) scale(0.85,1)" font-size="13" fill="#008000" stroke="#008000" stroke-width="0.2">km/h</text>
<line x1="147" y1="622.5" x2="150" y2="622.5" stroke="#808080" stroke-width="1" />
<text transform="translate(146.00,626.80) scale(0.82,1)" font-size="13" fill="#d8d800" stroke="#d8d800" stroke-width="0.2" text-anchor="end">0</text>
<line x1="147" y1="529.5" x2="150" y2="529.5" stroke="#808080" stroke-width="1" />
<text transform="translate(146.00,533.47) scale(0.82,1)" font-size="13" fill="#d8d800" stroke="#d8d800" stroke-width="0.2" text-anchor="end">5</text>
<line x1="147" y1="435.5" x2="150" y2="435.5" stroke="#808080" stroke-width="1" />
<text transform="translate(146.00,440.13) scale(0.82,1)" font-size="13" fill="#d8d800" stroke="#d8d800" stroke-width="0.2" text-anchor="end">10</text>
<line x1="147" y1="342.5" x2="150" y2="342.5" stroke="#808080" stroke-width="1" />
<text transform="translate(146.00,346.80) scale(0.82,1)" font-size="13" fill="#d8d800" stroke="#d8d800" stroke-width="0.2" text-anchor="end">15</text>
<line x1="147" y1="249.5" x2="150" y2="249.5" stroke="#808080" stroke-width="1" />
<text transform="translate(146.00,253.47) scale(0.82,1)" font-size="13" fill="#d8d800" stroke="#d8d800" stroke-width="0.2" text-anchor="end">20</text>
<line x1="147" y1="155.5" x2="150" y2="155.5" stroke="#808080" stroke-width="1" />
<text transform="translate(146.00,160.13) scale(0.82,1)" font-size="13" fill="#d8d800" stroke="#d8d800" stroke-width="0.2" text-anchor="end">25</text>
<line x1="147" y1="62.5" x2="150" y2="62.5" stroke="#808080" stroke-width="1" />
<text transform="translate(146.00,66.80) scale(0.82,1)" font-size="13" fill="#d8d800" stroke="#d8d800" stroke-width="0.2" text-anchor="end">30</text>
<text transform="translate(125.50,50.60) scale(0.82,1)" font-size="13" fill="#d8d800" stroke="#d8d800" stroke-width="0.2">min</text>
<line x1="912" y1="622.5" x2="916" y2="622.5" stroke="#808080" stroke-width="1" />
<text transform="translate(917.50,626.80) scale(0.82,1)" font-size="13" fill="#808080" stroke="#808080" stroke-width="0.2">0</text>
<line x1="912" y1="594.5" x2="916" y2="594.5" stroke="#808080" stroke-width="1" />
<text transform="translate(917.50,598.80) scale(0.82,1)" font-size="13" fill="#808080" stroke="#808080" stroke-width="0.2">5</text>
<line x1="912" y1="566.5" x2="916" y2="566.5" stroke="#808080" stroke-width="1" />
<text transform="translate(917.50,570.80) scale(0.82,1)" font-size="13" fill="#808080" stroke="#808080" stroke-width="0.2">10</text>
<line x1="912" y1="538.5" x2="916" y2="538.5" stroke="#808080" stroke-width="1" />
<text transform="translate(917.50,542.80) scale(0.82,1)" font-size="13" fill="#808080" stroke="#808080" stroke-width="0.2">15</text>
<line x1="912" y1="510.5" x2="916" y2="510.5" stroke="#808080" stroke-width="1" />
<text transform="translate(917.50,514.80) scale(0.82,1)" font-size="13" fill="#808080" stroke="#808080" stroke-width="0.2">20</text>
<line x1="912" y1="482.5" x2="916" y2="482.5" stroke="#808080" stroke-width="1" />
<text transform="translate(917.50,486.80) scale(0.82,1)" font-size="13" fill="#808080" stroke="#808080" stroke-width="0.2">25</text>
<line x1="912" y1="454.5" x2="916" y2="454.5" stroke="#808080" stroke-width="1" />
<text transform="translate(917.50,458.80) scale(0.82,1)" font-size="13" fill="#808080" stroke="#808080" stroke-width="0.2">30</text>
<line x1="912" y1="426.5" x2="916" y2="426.5" stroke="#808080" stroke-width="1" />
<text transform="translate(917.50,430.80) scale(0.82,1)" font-size="13" fill="#808080" stroke="#808080" stroke-width="0.2">35</text>
<line x1="912" y1="398.5" x2="916" y2="398.5" stroke="#808080" stroke-width="1" />
<text transform="translate(917.50,402.80) scale(0.82,1)" font-size="13" fill="#808080" stroke="#808080" stroke-width="0.2">40</text>
<line x1="912" y1="370.5" x2="916" y2="370.5" stroke="#808080" stroke-width="1" />
<text transform="translate(917.50,374.80) scale(0.82,1)" font-size="13" fill="#808080" stroke="#808080" stroke-width="0.2">45</text>
<line x1="912" y1="342.5" x2="916" y2="342.5" stroke="#808080" stroke-width="1" />
<text transform="translate(917.50,346.80) scale(0.82,1)" font-size="13" fill="#808080" stroke="#808080" stroke-width="0.2">50</text>
<line x1="912" y1="314.5" x2="916" y2="314.5" stroke="#808080" stroke-width="1" />
<text transform="translate(917.50,318.80) scale(0.82,1)" font-size="13" fill="#808080" stroke="#808080" stroke-width="0.2">55</text>
<line x1="912" y1="286.5" x2="916" y2="286.5" stroke="#808080" stroke-width="1" />
<text transform="translate(917.50,290.80) scale(0.82,1)" font-size="13" fill="#808080" stroke="#808080" stroke-width="0.2">60</text>
<line x1="912" y1="258.5" x2="916" y2="258.5" stroke="#808080" stroke-width="1" />
<text transform="translate(917.50,262.80) scale(0.82,1)" font-size="13" fill="#808080" stroke="#808080" stroke-width="0.2">65</text>
<line x1="912" y1="230.5" x2="916" y2="230.5" stroke="#808080" stroke-width="1" />
<text transform="translate(917.50,234.80) scale(0.82,1)" font-size="13" fill="#808080" stroke="#808080" stroke-width="0.2">70</text>
<line x1="912" y1="202.5" x2="916" y2="202.5" stroke="#808080" stroke-width="1" />
<text transform="translate(917.50,206.80) scale(0.82,1)" font-size="13" fill="#808080" stroke="#808080" stroke-width="0.2">75</text>
<line x1="912" y1="174.5" x2="916" y2="174.5" stroke="#808080" stroke-width="1" />
<text transform="translate(917.50,178.80) scale(0.82,1)" font-size="13" fill="#808080" stroke="#808080" stroke-width="0.2">80</text>
<line x1="912" y1="146.5" x2="916" y2="146.5" stroke="#808080" stroke-width="1" />
<text transform="translate(917.50,150.80) scale(0.82,1)" font-size="13" fill="#808080" stroke="#808080" stroke-width="0.2">85</text>
<line x1="912" y1="118.5" x2="916" y2="118.5" stroke="#808080" stroke-width="1" />
<text transform="translate(917.50,122.80) scale(0.82,1)" font-size="13" fill="#808080" stroke="#808080" stroke-width="0.2">90</text>
<line x1="912" y1="90.5" x2="916" y2="90.5" stroke="#808080" stroke-width="1" />
<text transform="translate(917.50,94.80) scale(0.82,1)" font-size="13" fill="#808080" stroke="#808080" stroke-width="0.2">95</text>
<line x1="912" y1="62.5" x2="916" y2="62.5" stroke="#808080" stroke-width="1" />
<text transform="translate(917.50,66.80) scale(0.82,1)" font-size="13" fill="#808080" stroke="#808080" stroke-width="0.2">100</text>
<text transform="translate(912.00,50.60) scale(0.82,1)" font-size="11" fill="#808080" stroke="#808080" stroke-width="0.2">%</text>
<line x1="948.5" y1="62.0" x2="948.5" y2="623.0" stroke="#808080" stroke-width="1" />
<line x1="948.5" y1="622.5" x2="953" y2="622.5" stroke="#808080" stroke-width="1" />
<text transform="translate(954.70,626.80) scale(0.82,1)" font-size="13" fill="#0000ff" stroke="#0000ff" stroke-width="0.2">0.0</text>
<line x1="948.5" y1="600.5" x2="953" y2="600.5" stroke="#808080" stroke-width="1" />
<text transform="translate(954.70,604.40) scale(0.82,1)" font-size="13" fill="#0000ff" stroke="#0000ff" stroke-width="0.2">0.2</text>
<line x1="948.5" y1="577.5" x2="953" y2="577.5" stroke="#808080" stroke-width="1" />
<text transform="translate(954.70,582.00) scale(0.82,1)" font-size="13" fill="#0000ff" stroke="#0000ff" stroke-width="0.2">0.4</text>
<line x1="948.5" y1="555.5" x2="953" y2="555.5" stroke="#808080" stroke-width="1" />
<text transform="translate(954.70,559.60) scale(0.82,1)" font-size="13" fill="#0000ff" stroke="#0000ff" stroke-width="0.2">0.6</text>
<line x1="948.5" y1="532.5" x2="953" y2="532.5" stroke="#808080" stroke-width="1" />
<text transform="translate(954.70,537.20) scale(0.82,1)" font-size="13" fill="#0000ff" stroke="#0000ff" stroke-width="0.2">0.8</text>
<line x1="948.5" y1="510.5" x2="953" y2="510.5" stroke="#808080" stroke-width="1" />
<text transform="translate(954.70,514.80) scale(0.82,1)" font-size="13" fill="#0000ff" stroke="#0000ff" stroke-width="0.2">1.0</text>
<line x1="948.5" y1="488.5" x2="953" y2="488.5" stroke="#808080" stroke-width="1" />
<text transform="translate(954.70,492.40) scale(0.82,1)" font-size="13" fill="#0000ff" stroke="#0000ff" stroke-width="0.2">1.2</text>
<line x1="948.5" y1="465.5" x2="953" y2="465.5" stroke="#808080" stroke-width="1" />
<text transform="translate(954.70,470.00) scale(0.82,1)" font-size="13" fill="#0000ff" stroke="#0000ff" stroke-width="0.2">1.4</text>
<line x1="948.5" y1="443.5" x2="953" y2="443.5" stroke="#808080" stroke-width="1" />
<text transform="translate(954.70,447.60) scale(0.82,1)" font-size="13" fill="#0000ff" stroke="#0000ff" stroke-width="0.2">1.6</text>
<line x1="948.5" y1="420.5" x2="953" y2="420.5" stroke="#808080" stroke-width="1" />
<text transform="translate(954.70,425.20) scale(0.82,1)" font-size="13" fill="#0000ff" stroke="#0000ff" stroke-width="0.2">1.8</text>
<line x1="948.5" y1="398.5" x2="953" y2="398.5" stroke="#808080" stroke-width="1" />
<text transform="translate(954.70,402.80) scale(0.82,1)" font-size="13" fill="#0000ff" stroke="#0000ff" stroke-width="0.2">2.0</text>
<line x1="948.5" y1="376.5" x2="953" y2="376.5" stroke="#808080" stroke-width="1" />
<text transform="translate(954.70,380.40) scale(0.82,1)" font-size="13" fill="#0000ff" stroke="#0000ff" stroke-width="0.2">2.2</text>
<line x1="948.5" y1="353.5" x2="953" y2="353.5" stroke="#808080" stroke-width="1" />
<text transform="translate(954.70,358.00) scale(0.82,1)" font-size="13" fill="#0000ff" stroke="#0000ff" stroke-width="0.2">2.4</text>
<line x1="948.5" y1="331.5" x2="953" y2="331.5" stroke="#808080" stroke-width="1" />
<text transform="translate(954.70,335.60) scale(0.82,1)" font-size="13" fill="#0000ff" stroke="#0000ff" stroke-width="0.2">2.6</text>
<line x1="948.5" y1="308.5" x2="953" y2="308.5" stroke="#808080" stroke-width="1" />
<text transform="translate(954.70,313.20) scale(0.82,1)" font-size="13" fill="#0000ff" stroke="#0000ff" stroke-width="0.2">2.8</text>
<line x1="948.5" y1="286.5" x2="953" y2="286.5" stroke="#808080" stroke-width="1" />
<text transform="translate(954.70,290.80) scale(0.82,1)" font-size="13" fill="#0000ff" stroke="#0000ff" stroke-width="0.2">3.0</text>
<line x1="948.5" y1="264.5" x2="953" y2="264.5" stroke="#808080" stroke-width="1" />
<text transform="translate(954.70,268.40) scale(0.82,1)" font-size="13" fill="#0000ff" stroke="#0000ff" stroke-width="0.2">3.2</text>
<line x1="948.5" y1="241.5" x2="953" y2="241.5" stroke="#808080" stroke-width="1" />
<text transform="translate(954.70,246.00) scale(0.82,1)" font-size="13" fill="#0000ff" stroke="#0000ff" stroke-width="0.2">3.4</text>
<line x1="948.5" y1="219.5" x2="953" y2="219.5" stroke="#808080" stroke-width="1" />
<text transform="translate(954.70,223.60) scale(0.82,1)" font-size="13" fill="#0000ff" stroke="#0000ff" stroke-width="0.2">3.6</text>
<line x1="948.5" y1="196.5" x2="953" y2="196.5" stroke="#808080" stroke-width="1" />
<text transform="translate(954.70,201.20) scale(0.82,1)" font-size="13" fill="#0000ff" stroke="#0000ff" stroke-width="0.2">3.8</text>
<line x1="948.5" y1="174.5" x2="953" y2="174.5" stroke="#808080" stroke-width="1" />
<text transform="translate(954.70,178.80) scale(0.82,1)" font-size="13" fill="#0000ff" stroke="#0000ff" stroke-width="0.2">4.0</text>
<line x1="948.5" y1="152.5" x2="953" y2="152.5" stroke="#808080" stroke-width="1" />
<text transform="translate(954.70,156.40) scale(0.82,1)" font-size="13" fill="#0000ff" stroke="#0000ff" stroke-width="0.2">4.2</text>
<line x1="948.5" y1="129.5" x2="953" y2="129.5" stroke="#808080" stroke-width="1" />
<text transform="translate(954.70,134.00) scale(0.82,1)" font-size="13" fill="#0000ff" stroke="#0000ff" stroke-width="0.2">4.4</text>
<line x1="948.5" y1="107.5" x2="953" y2="107.5" stroke="#808080" stroke-width="1" />
<text transform="translate(954.70,111.60) scale(0.82,1)" font-size="13" fill="#0000ff" stroke="#0000ff" stroke-width="0.2">4.6</text>
<line x1="948.5" y1="84.5" x2="953" y2="84.5" stroke="#808080" stroke-width="1" />
<text transform="translate(954.70,89.20) scale(0.82,1)" font-size="13" fill="#0000ff" stroke="#0000ff" stroke-width="0.2">4.8</text>
<line x1="944" y1="84.5" x2="948" y2="84.5" stroke="#808080" stroke-width="1" />
<line x1="944" y1="622.5" x2="948" y2="622.5" stroke="#808080" stroke-width="1" />
<text transform="translate(948.00,50.60) scale(0.82,1)" font-size="13" fill="#0000ff" stroke="#0000ff" stroke-width="0.2">l/m²</text>
<line x1="985.5" y1="62.0" x2="985.5" y2="623.0" stroke="#808080" stroke-width="1" />
<line x1="985.5" y1="622.5" x2="990" y2="622.5" stroke="#808080" stroke-width="1" />
<text transform="translate(991.50,626.80) scale(0.82,1)" font-size="13" fill="#008000" stroke="#008000" stroke-width="0.2">0</text>
<line x1="985.5" y1="575.5" x2="990" y2="575.5" stroke="#808080" stroke-width="1" />
<text transform="translate(991.50,580.13) scale(0.82,1)" font-size="13" fill="#008000" stroke="#008000" stroke-width="0.2">30</text>
<line x1="985.5" y1="529.5" x2="990" y2="529.5" stroke="#808080" stroke-width="1" />
<text transform="translate(991.50,533.47) scale(0.82,1)" font-size="13" fill="#008000" stroke="#008000" stroke-width="0.2">60</text>
<line x1="985.5" y1="482.5" x2="990" y2="482.5" stroke="#808080" stroke-width="1" />
<text transform="translate(991.50,486.80) scale(0.82,1)" font-size="13" fill="#008000" stroke="#008000" stroke-width="0.2">90</text>
<line x1="985.5" y1="435.5" x2="990" y2="435.5" stroke="#808080" stroke-width="1" />
<text transform="translate(991.50,440.13) scale(0.82,1)" font-size="13" fill="#008000" stroke="#008000" stroke-width="0.2">120</text>
<line x1="985.5" y1="389.5" x2="990" y2="389.5" stroke="#808080" stroke-width="1" />
<text transform="translate(991.50,393.47) scale(0.82,1)" font-size="13" fill="#008000" stroke="#008000" stroke-width="0.2">150</text>
<line x1="985.5" y1="342.5" x2="990" y2="342.5" stroke="#808080" stroke-width="1" />
<text transform="translate(991.50,346.80) scale(0.82,1)" font-size="13" fill="#008000" stroke="#008000" stroke-width="0.2">180</text>
<line x1="985.5" y1="295.5" x2="990" y2="295.5" stroke="#808080" stroke-width="1" />
<text transform="translate(991.50,300.13) scale(0.82,1)" font-size="13" fill="#008000" stroke="#008000" stroke-width="0.2">210</text>
<line x1="985.5" y1="249.5" x2="990" y2="249.5" stroke="#808080" stroke-width="1" />
<text transform="translate(991.50,253.47) scale(0.82,1)" font-size="13" fill="#008000" stroke="#008000" stroke-width="0.2">240</text>
<line x1="985.5" y1="202.5" x2="990" y2="202.5" stroke="#808080" stroke-width="1" />
<text transform="translate(991.50,206.80) scale(0.82,1)" font-size="13" fill="#008000" stroke="#008000" stroke-width="0.2">270</text>
<line x1="985.5" y1="155.5" x2="990" y2="155.5" stroke="#808080" stroke-width="1" />
<text transform="translate(991.50,160.13) scale(0.82,1)" font-size="13" fill="#008000" stroke="#008000" stroke-width="0.2">300</text>
<line x1="985.5" y1="109.5" x2="990" y2="109.5" stroke="#808080" stroke-width="1" />
<text transform="translate(991.50,113.47) scale(0.82,1)" font-size="13" fill="#008000" stroke="#008000" stroke-width="0.2">330</text>
<line x1="985.5" y1="62.5" x2="990" y2="62.5" stroke="#808080" stroke-width="1" />
<text transform="translate(991.50,66.80) scale(0.82,1)" font-size="13" fill="#008000" stroke="#008000" stroke-width="0.2">360</text>
<line x1="981" y1="62.5" x2="985" y2="62.5" stroke="#808080" stroke-width="1" />
<text transform="translate(1012.60,626.80) scale(0.82,1)" font-size="13" fill="#008000" stroke="#008000" stroke-width="0.2">N</text>
<text transform="translate(1012.60,486.80) scale(0.82,1)" font-size="13" fill="#008000" stroke="#008000" stroke-width="0.2">O</text>
<text transform="translate(1012.60,346.80) scale(0.82,1)" font-size="13" fill="#008000" stroke="#008000" stroke-width="0.2">S</text>
<text transform="translate(1012.60,206.80) scale(0.82,1)" font-size="13" fill="#008000" stroke="#008000" stroke-width="0.2">W</text>
<text transform="translate(1012.60,66.80) scale(0.82,1)" font-size="13" fill="#008000" stroke="#008000" stroke-width="0.2">N</text>
<text transform="translate(986.00,49.50) scale(0.82,1)" font-size="11" fill="#008000" stroke="#008000" stroke-width="0.2">°</text>
<line x1="151.5" y1="623" x2="151.5" y2="627" stroke="#808080" stroke-width="1" />
<text transform="translate(152.00,640.60) scale(0.82,1)" font-size="13" fill="#000" stroke="#000" stroke-width="0.2" text-anchor="middle">00:00</text>
<line x1="214.5" y1="623" x2="214.5" y2="627" stroke="#808080" stroke-width="1" />
<text transform="translate(215.33,640.60) scale(0.82,1)" font-size="13" fill="#000" stroke="#000" stroke-width="0.2" text-anchor="middle">02:00</text>
<line x1="278.5" y1="623" x2="278.5" y2="627" stroke="#808080" stroke-width="1" />
<text transform="translate(278.67,640.60) scale(0.82,1)" font-size="13" fill="#000" stroke="#000" stroke-width="0.2" text-anchor="middle">04:00</text>
<line x1="341.5" y1="623" x2="341.5" y2="627" stroke="#808080" stroke-width="1" />
<text transform="translate(342.00,640.60) scale(0.82,1)" font-size="13" fill="#000" stroke="#000" stroke-width="0.2" text-anchor="middle">06:00</text>
<line x1="404.5" y1="623" x2="404.5" y2="627" stroke="#808080" stroke-width="1" />
<text transform="translate(405.33,640.60) scale(0.82,1)" font-size="13" fill="#000" stroke="#000" stroke-width="0.2" text-anchor="middle">08:00</text>
<line x1="468.5" y1="623" x2="468.5" y2="627" stroke="#808080" stroke-width="1" />
<text transform="translate(468.67,640.60) scale(0.82,1)" font-size="13" fill="#000" stroke="#000" stroke-width="0.2" text-anchor="middle">10:00</text>
<line x1="531.5" y1="623" x2="531.5" y2="627" stroke="#808080" stroke-width="1" />
<text transform="translate(532.00,640.60) scale(0.82,1)" font-size="13" fill="#000" stroke="#000" stroke-width="0.2" text-anchor="middle">12:00</text>
<line x1="594.5" y1="623" x2="594.5" y2="627" stroke="#808080" stroke-width="1" />
<text transform="translate(595.33,640.60) scale(0.82,1)" font-size="13" fill="#000" stroke="#000" stroke-width="0.2" text-anchor="middle">14:00</text>
<line x1="658.5" y1="623" x2="658.5" y2="627" stroke="#808080" stroke-width="1" />
<text transform="translate(658.67,640.60) scale(0.82,1)" font-size="13" fill="#000" stroke="#000" stroke-width="0.2" text-anchor="middle">16:00</text>
<line x1="721.5" y1="623" x2="721.5" y2="627" stroke="#808080" stroke-width="1" />
<text transform="translate(722.00,640.60) scale(0.82,1)" font-size="13" fill="#000" stroke="#000" stroke-width="0.2" text-anchor="middle">18:00</text>
<line x1="784.5" y1="623" x2="784.5" y2="627" stroke="#808080" stroke-width="1" />
<text transform="translate(785.33,640.60) scale(0.82,1)" font-size="13" fill="#000" stroke="#000" stroke-width="0.2" text-anchor="middle">20:00</text>
<line x1="848.5" y1="623" x2="848.5" y2="627" stroke="#808080" stroke-width="1" />
<text transform="translate(848.67,640.60) scale(0.82,1)" font-size="13" fill="#000" stroke="#000" stroke-width="0.2" text-anchor="middle">22:00</text>
<line x1="911.5" y1="623" x2="911.5" y2="627" stroke="#808080" stroke-width="1" />
<text transform="translate(912.00,640.60) scale(0.82,1)" font-size="13" fill="#000" stroke="#000" stroke-width="0.2" text-anchor="middle">24:00</text>
<text transform="translate(10.50,651.80) scale(0.82,1)" font-size="13" fill="#000" stroke="#000" stroke-width="0.2">14:46</text>
<path d="M40,651 v-3 h1 v-2 h2 v-1 h3 v1 h2 v2 h1 v3 z" fill="#ffff00"/>
<rect x="180" y="642" width="11" height="11" fill="#00008b"/>
<path d="M184,642 h2 v3 h2 l-3,5 l-3,-5 h2 z" fill="#000" shape-rendering="auto"/>
<path d="M183,642 h2 v3 h2 l-3,5.5 l-3,-5.5 h2 z" fill="#ffff00" shape-rendering="auto"/>
<circle cx="188.4" cy="652" r="2.7" fill="#fff" shape-rendering="auto"/>
<text transform="translate(192.00,651.80) scale(0.82,1)" font-size="13" fill="#000" stroke="#000" stroke-width="0.2">01:03</text>
<text transform="translate(300.80,651.80) scale(0.82,1)" font-size="13" fill="#000" stroke="#000" stroke-width="0.2">05:45</text>
<g stroke="#ffff90" stroke-width="1.6" shape-rendering="auto"><line x1="334.3" y1="642.2" x2="334.3" y2="653.6"/><line x1="329.5" y1="647.8" x2="339.8" y2="647.8"/><line x1="330.3" y1="643.6" x2="338.5" y2="652"/><line x1="338.5" y1="643.6" x2="330.3" y2="652"/></g>
<circle cx="334.2" cy="647.8" r="3.1" fill="#ffff00" shape-rendering="auto"/>
<rect x="419" y="642" width="11" height="11" fill="#00008b"/>
<circle cx="422" cy="644.8" r="2.8" fill="#fff" shape-rendering="auto"/>
<path d="M426,653 h2 v-3 h2 l-3,-5.5 l-3,5.5 h2 z" fill="#ffff00" shape-rendering="auto"/>
<text transform="translate(430.80,651.80) scale(0.82,1)" font-size="13" fill="#000" stroke="#000" stroke-width="0.2">08:37</text>
<text transform="translate(767.80,651.80) scale(0.82,1)" font-size="13" fill="#000" stroke="#000" stroke-width="0.2">20:32</text>
<rect x="798.5" y="645.5" width="5" height="5" fill="#fff" stroke="#ffff50" stroke-width="1"/>
<rect x="0" y="654" width="1024" height="74" fill="#fdf0c8"/>
<rect x="1" y="655" width="1022" height="73" fill="#006cdb"/>
<rect x="87" y="655" width="1" height="73" fill="#fdf0c8"/>
<rect x="88" y="655" width="1" height="73" fill="#d4a83c"/>
<rect x="204" y="655" width="1" height="73" fill="#fdf0c8"/>
<rect x="205" y="655" width="1" height="73" fill="#d4a83c"/>
<rect x="322" y="655" width="1" height="73" fill="#fdf0c8"/>
<rect x="323" y="655" width="1" height="73" fill="#d4a83c"/>
<rect x="440" y="655" width="1" height="73" fill="#fdf0c8"/>
<rect x="441" y="655" width="1" height="73" fill="#d4a83c"/>
<rect x="558" y="655" width="1" height="73" fill="#fdf0c8"/>
<rect x="559" y="655" width="1" height="73" fill="#d4a83c"/>
<rect x="676" y="655" width="1" height="73" fill="#fdf0c8"/>
<rect x="677" y="655" width="1" height="73" fill="#d4a83c"/>
<rect x="794" y="655" width="1" height="73" fill="#fdf0c8"/>
<rect x="795" y="655" width="1" height="73" fill="#d4a83c"/>
<rect x="912" y="655" width="1" height="73" fill="#fdf0c8"/>
<rect x="913" y="655" width="1" height="73" fill="#d4a83c"/>
<text transform="translate(9.00,673.00) scale(0.82,1)" font-size="13" fill="#000" letter-spacing="1.22">Sensor</text>
<text transform="translate(10.00,673.00) scale(0.82,1)" font-size="13" fill="#000" letter-spacing="1.22">Sensor</text>
<text transform="translate(9.00,689.00) scale(0.82,1)" font-size="13" fill="#000" letter-spacing="1.22">MinWert</text>
<text transform="translate(10.00,689.00) scale(0.82,1)" font-size="13" fill="#000" letter-spacing="1.22">MinWert</text>
<text transform="translate(9.00,705.00) scale(0.82,1)" font-size="13" fill="#000" letter-spacing="1.22">MaxWert</text>
<text transform="translate(10.00,705.00) scale(0.82,1)" font-size="13" fill="#000" letter-spacing="1.22">MaxWert</text>
<text transform="translate(9.00,721.00) scale(0.82,1)" font-size="13" fill="#000" letter-spacing="1.22">Durchschnitt</text>
<text transform="translate(10.00,721.00) scale(0.82,1)" font-size="13" fill="#000" letter-spacing="1.22">Durchschnitt</text>
<text transform="translate(95.50,673.00) scale(0.82,1)" font-size="13" fill="#000" letter-spacing="1.22">Temp. 2 m</text>
<text transform="translate(96.50,673.00) scale(0.82,1)" font-size="13" fill="#000" letter-spacing="1.22">Temp. 2 m</text>
<text transform="translate(198.00,673.00) scale(0.82,1)" font-size="13" fill="#000" text-anchor="end" letter-spacing="1.22">°C</text>
<text transform="translate(199.00,673.00) scale(0.82,1)" font-size="13" fill="#000" text-anchor="end" letter-spacing="1.22">°C</text>
<text transform="translate(101.50,689.00) scale(0.82,1)" font-size="13" fill="#000" stroke="#000" stroke-width="0.2">05:46</text>
<text transform="translate(198.00,689.00) scale(0.82,1)" font-size="13" fill="#000" stroke="#000" stroke-width="0.2" text-anchor="end">11.0</text>
<text transform="translate(101.50,705.00) scale(0.82,1)" font-size="13" fill="#000" stroke="#000" stroke-width="0.2">15:48</text>
<text transform="translate(198.00,705.00) scale(0.82,1)" font-size="13" fill="#000" stroke="#000" stroke-width="0.2" text-anchor="end">20.3</text>
<text transform="translate(101.50,721.00) scale(0.82,1)" font-size="13" fill="#000" stroke="#000" stroke-width="0.2">(+ 6.02 )</text>
<text transform="translate(198.00,721.00) scale(0.82,1)" font-size="13" fill="#000" stroke="#000" stroke-width="0.2" text-anchor="end">14.82</text>
<text transform="translate(212.50,673.00) scale(0.82,1)" font-size="13" fill="#000" letter-spacing="1.22">Windchill</text>
<text transform="translate(213.50,673.00) scale(0.82,1)" font-size="13" fill="#000" letter-spacing="1.22">Windchill</text>
<text transform="translate(316.00,673.00) scale(0.82,1)" font-size="13" fill="#000" text-anchor="end" letter-spacing="1.22">°C</text>
<text transform="translate(317.00,673.00) scale(0.82,1)" font-size="13" fill="#000" text-anchor="end" letter-spacing="1.22">°C</text>
<text transform="translate(218.50,689.00) scale(0.82,1)" font-size="13" fill="#000" stroke="#000" stroke-width="0.2">05:46</text>
<text transform="translate(316.00,689.00) scale(0.82,1)" font-size="13" fill="#000" stroke="#000" stroke-width="0.2" text-anchor="end">11.0</text>
<text transform="translate(218.50,705.00) scale(0.82,1)" font-size="13" fill="#000" stroke="#000" stroke-width="0.2">15:48</text>
<text transform="translate(316.00,705.00) scale(0.82,1)" font-size="13" fill="#000" stroke="#000" stroke-width="0.2" text-anchor="end">20.3</text>
<text transform="translate(316.00,721.00) scale(0.82,1)" font-size="13" fill="#000" stroke="#000" stroke-width="0.2" text-anchor="end">14.8</text>
<text transform="translate(331.50,673.00) scale(0.82,1)" font-size="13" fill="#000" letter-spacing="1.22">Temp. Boden</text>
<text transform="translate(332.50,673.00) scale(0.82,1)" font-size="13" fill="#000" letter-spacing="1.22">Temp. Boden</text>
<text transform="translate(434.00,673.00) scale(0.82,1)" font-size="13" fill="#000" text-anchor="end" letter-spacing="1.22">°C</text>
<text transform="translate(435.00,673.00) scale(0.82,1)" font-size="13" fill="#000" text-anchor="end" letter-spacing="1.22">°C</text>
<text transform="translate(337.50,689.00) scale(0.82,1)" font-size="13" fill="#000" stroke="#000" stroke-width="0.2">05:26</text>
<text transform="translate(434.00,689.00) scale(0.82,1)" font-size="13" fill="#000" stroke="#000" stroke-width="0.2" text-anchor="end">10.8</text>
<text transform="translate(337.50,705.00) scale(0.82,1)" font-size="13" fill="#000" stroke="#000" stroke-width="0.2">15:46</text>
<text transform="translate(434.00,705.00) scale(0.82,1)" font-size="13" fill="#000" stroke="#000" stroke-width="0.2" text-anchor="end">25.5</text>
<text transform="translate(434.00,721.00) scale(0.82,1)" font-size="13" fill="#000" stroke="#000" stroke-width="0.2" text-anchor="end">15.49</text>
<text transform="translate(449.00,673.00) scale(0.82,1)" font-size="13" fill="#000" letter-spacing="1.22">Luftdruck</text>
<text transform="translate(450.00,673.00) scale(0.82,1)" font-size="13" fill="#000" letter-spacing="1.22">Luftdruck</text>
<text transform="translate(552.00,673.00) scale(0.82,1)" font-size="13" fill="#000" text-anchor="end" letter-spacing="1.22">hPa</text>
<text transform="translate(553.00,673.00) scale(0.82,1)" font-size="13" fill="#000" text-anchor="end" letter-spacing="1.22">hPa</text>
<text transform="translate(455.00,689.00) scale(0.82,1)" font-size="13" fill="#000" stroke="#000" stroke-width="0.2">11:54</text>
<text transform="translate(552.00,689.00) scale(0.82,1)" font-size="13" fill="#000" stroke="#000" stroke-width="0.2" text-anchor="end">1004.6</text>
<text transform="translate(455.00,705.00) scale(0.82,1)" font-size="13" fill="#000" stroke="#000" stroke-width="0.2">23:54</text>
<text transform="translate(552.00,705.00) scale(0.82,1)" font-size="13" fill="#000" stroke="#000" stroke-width="0.2" text-anchor="end">1010.8</text>
<text transform="translate(449.00,721.00) scale(0.82,1)" font-size="13" fill="#000" stroke="#000" stroke-width="0.2">^1.1hPa/h</text>
<text transform="translate(552.00,721.00) scale(0.82,1)" font-size="13" fill="#000" stroke="#000" stroke-width="0.2" text-anchor="end">1006.4</text>
<text transform="translate(566.50,673.00) scale(0.82,1)" font-size="13" fill="#000" letter-spacing="1.22">Windböen</text>
<text transform="translate(567.50,673.00) scale(0.82,1)" font-size="13" fill="#000" letter-spacing="1.22">Windböen</text>
<text transform="translate(670.00,673.00) scale(0.82,1)" font-size="13" fill="#000" text-anchor="end" letter-spacing="1.22">km/h</text>
<text transform="translate(671.00,673.00) scale(0.82,1)" font-size="13" fill="#000" text-anchor="end" letter-spacing="1.22">km/h</text>
<text transform="translate(566.50,689.00) scale(0.82,1)" font-size="13" fill="#000" stroke="#000" stroke-width="0.2">Ø 10 min.</text>
<text transform="translate(670.00,689.00) scale(0.82,1)" font-size="13" fill="#000" stroke="#000" stroke-width="0.2" text-anchor="end">0.0</text>
<text transform="translate(572.50,705.00) scale(0.82,1)" font-size="13" fill="#000" stroke="#000" stroke-width="0.2">14:00</text>
<text transform="translate(670.00,705.00) scale(0.82,1)" font-size="13" fill="#000" stroke="#000" stroke-width="0.2" text-anchor="end">N-NO 32.9</text>
<text transform="translate(572.50,721.00) scale(0.82,1)" font-size="13" fill="#000" stroke="#000" stroke-width="0.2">6.4 km</text>
<text transform="translate(670.00,721.00) scale(0.82,1)" font-size="13" fill="#000" stroke="#000" stroke-width="0.2" text-anchor="end">6.4</text>
<text transform="translate(684.50,673.00) scale(0.82,1)" font-size="13" fill="#000" letter-spacing="1.22">Regen</text>
<text transform="translate(685.50,673.00) scale(0.82,1)" font-size="13" fill="#000" letter-spacing="1.22">Regen</text>
<text transform="translate(788.00,673.00) scale(0.82,1)" font-size="13" fill="#000" text-anchor="end" letter-spacing="1.22">l/m²</text>
<text transform="translate(789.00,673.00) scale(0.82,1)" font-size="13" fill="#000" text-anchor="end" letter-spacing="1.22">l/m²</text>
<text transform="translate(684.50,689.00) scale(0.82,1)" font-size="13" fill="#000" stroke="#000" stroke-width="0.2">0 min.</text>
<text transform="translate(690.50,705.00) scale(0.82,1)" font-size="13" fill="#000" stroke="#000" stroke-width="0.2">23:58</text>
<text transform="translate(788.00,705.00) scale(0.82,1)" font-size="13" fill="#000" stroke="#000" stroke-width="0.2" text-anchor="end">0.0</text>
<text transform="translate(684.50,721.00) scale(0.82,1)" font-size="13" fill="#000" stroke="#000" stroke-width="0.2">Gesamt:</text>
<text transform="translate(788.00,721.00) scale(0.82,1)" font-size="13" fill="#000" stroke="#000" stroke-width="0.2" text-anchor="end">0.0</text>
<text transform="translate(803.00,673.00) scale(0.82,1)" font-size="13" fill="#000" letter-spacing="1.22">Sonne-Zeit</text>
<text transform="translate(804.00,673.00) scale(0.82,1)" font-size="13" fill="#000" letter-spacing="1.22">Sonne-Zeit</text>
<text transform="translate(905.50,673.00) scale(0.82,1)" font-size="13" fill="#000" text-anchor="end" letter-spacing="1.22">min</text>
<text transform="translate(906.50,673.00) scale(0.82,1)" font-size="13" fill="#000" text-anchor="end" letter-spacing="1.22">min</text>
<text transform="translate(809.00,705.00) scale(0.82,1)" font-size="13" fill="#000" stroke="#000" stroke-width="0.2">14:58</text>
<text transform="translate(905.50,705.00) scale(0.82,1)" font-size="13" fill="#000" stroke="#000" stroke-width="0.2" text-anchor="end">4</text>
<text transform="translate(803.00,721.00) scale(0.82,1)" font-size="13" fill="#000" stroke="#000" stroke-width="0.2">6:26 h</text>
<text transform="translate(905.50,721.00) scale(0.82,1)" font-size="13" fill="#000" stroke="#000" stroke-width="0.2" text-anchor="end">0.5</text>
<text transform="translate(920.00,673.00) scale(0.82,1)" font-size="13" fill="#000" stroke="#000" stroke-width="0.2">Wolkenunterg</text>
<text transform="translate(1022.50,673.00) scale(0.82,1)" font-size="13" fill="#000" stroke="#000" stroke-width="0.2" text-anchor="end">298m</text>
<text transform="translate(920.00,689.00) scale(0.82,1)" font-size="13" fill="#000" stroke="#000" stroke-width="0.2">Sichtweite</text>
<text transform="translate(1022.50,689.00) scale(0.82,1)" font-size="13" fill="#000" stroke="#000" stroke-width="0.2" text-anchor="end">6-10km</text>
<text transform="translate(920.00,705.00) scale(0.82,1)" font-size="13" fill="#000" stroke="#000" stroke-width="0.2">Regen/Tag</text>
<text transform="translate(1022.50,705.00) scale(0.82,1)" font-size="13" fill="#000" stroke="#000" stroke-width="0.2" text-anchor="end">0.0l/m²</text>
<text transform="translate(920.00,721.00) scale(0.82,1)" font-size="13" fill="#000" stroke="#000" stroke-width="0.2">Neumond</text>
<text transform="translate(1022.50,721.00) scale(0.82,1)" font-size="13" fill="#000" stroke="#000" stroke-width="0.2" text-anchor="end">24.05.09</text>
<rect x="504" y="726" width="8" height="2" fill="#d0d0d0"/>
</svg>
</body></html>
